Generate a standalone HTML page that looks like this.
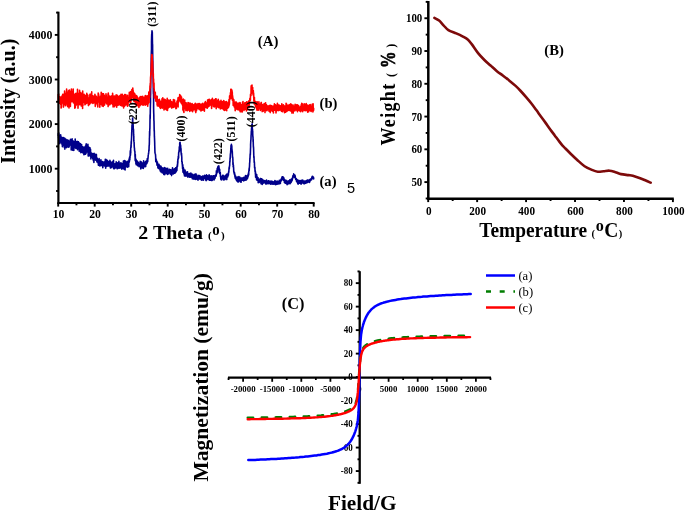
<!DOCTYPE html>
<html><head><meta charset="utf-8"><title>Figure</title>
<style>
html,body{margin:0;padding:0;background:#fff;}
body{width:685px;height:512px;overflow:hidden;font-family:"Liberation Serif",serif;}
svg{display:block;}
</style></head><body>
<svg width="685" height="512" viewBox="0 0 685 512">
<rect width="685" height="512" fill="#ffffff"/>
<g style="will-change:transform">
<polyline points="58.2,135.5 58.3,133.5 58.4,135.7 58.5,136.1 58.6,138.0 58.7,136.3 58.7,132.8 58.8,135.0 58.9,133.6 59.0,136.0 59.1,135.9 59.2,136.8 59.3,142.2 59.4,135.4 59.5,136.7 59.6,136.9 59.7,143.2 59.8,143.6 59.8,141.4 59.9,140.4 60.0,138.4 60.1,139.4 60.2,137.9 60.3,141.1 60.4,138.6 60.5,138.4 60.6,141.4 60.7,134.9 60.8,138.1 60.8,136.4 60.9,141.5 61.0,142.0 61.1,140.9 61.2,140.4 61.3,138.4 61.4,139.6 61.5,141.6 61.6,143.1 61.7,141.9 61.8,137.2 61.9,142.9 61.9,140.1 62.0,139.7 62.1,145.0 62.2,140.9 62.3,137.5 62.4,146.7 62.5,142.1 62.6,141.6 62.7,143.6 62.8,140.0 62.9,141.6 62.9,145.5 63.0,139.2 63.1,139.6 63.2,138.9 63.3,137.6 63.4,140.6 63.5,141.3 63.6,145.2 63.7,140.0 63.8,143.4 63.9,143.0 63.9,145.3 64.0,144.5 64.1,143.3 64.2,138.3 64.3,147.6 64.4,146.0 64.5,141.4 64.6,138.1 64.7,140.5 64.8,147.4 64.9,149.1 65.0,141.3 65.0,144.4 65.1,145.5 65.2,139.7 65.3,139.4 65.4,142.1 65.5,142.0 65.6,141.6 65.7,139.0 65.8,141.3 65.9,141.6 66.0,141.6 66.0,146.5 66.1,140.0 66.2,140.8 66.3,141.8 66.4,147.6 66.5,144.6 66.6,141.2 66.7,147.4 66.8,143.7 66.9,140.9 67.0,146.4 67.1,139.7 67.1,142.2 67.2,143.8 67.3,142.8 67.4,142.1 67.5,143.3 67.6,141.0 67.7,145.2 67.8,144.7 67.9,141.3 68.0,143.7 68.1,145.8 68.1,141.6 68.2,140.4 68.3,144.9 68.4,147.1 68.5,144.2 68.6,144.3 68.7,144.6 68.8,140.7 68.9,146.3 69.0,141.0 69.1,146.9 69.2,145.8 69.2,142.5 69.3,141.4 69.4,142.0 69.5,143.2 69.6,143.7 69.7,143.7 69.8,142.7 69.9,144.4 70.0,143.4 70.1,142.7 70.2,144.1 70.2,142.3 70.3,142.8 70.4,139.4 70.5,143.4 70.6,145.1 70.7,145.0 70.8,144.2 70.9,142.0 71.0,145.0 71.1,143.3 71.2,140.0 71.2,150.0 71.3,146.9 71.4,143.7 71.5,143.4 71.6,143.7 71.7,145.3 71.8,142.8 71.9,143.7 72.0,145.6 72.1,138.7 72.2,143.6 72.3,145.7 72.3,144.6 72.4,144.9 72.5,144.6 72.6,150.2 72.7,145.6 72.8,142.1 72.9,147.2 73.0,144.7 73.1,142.3 73.2,142.5 73.3,141.1 73.3,148.5 73.4,145.4 73.5,145.4 73.6,143.2 73.7,142.1 73.8,150.4 73.9,142.1 74.0,148.0 74.1,143.1 74.2,148.1 74.3,144.3 74.4,141.9 74.4,145.0 74.5,144.3 74.6,142.9 74.7,144.4 74.8,144.9 74.9,141.2 75.0,142.3 75.1,145.4 75.2,139.0 75.3,147.4 75.4,142.7 75.4,145.4 75.5,144.5 75.6,143.2 75.7,144.3 75.8,143.3 75.9,148.4 76.0,148.4 76.1,143.4 76.2,147.1 76.3,147.3 76.4,148.3 76.5,142.0 76.5,143.2 76.6,141.5 76.7,147.2 76.8,145.0 76.9,147.7 77.0,143.3 77.1,141.4 77.2,147.1 77.3,141.5 77.4,142.8 77.5,145.5 77.5,149.7 77.6,141.9 77.7,145.4 77.8,146.6 77.9,144.3 78.0,144.2 78.1,141.7 78.2,147.6 78.3,142.6 78.4,141.8 78.5,142.0 78.5,145.8 78.6,147.2 78.7,143.2 78.8,145.3 78.9,145.4 79.0,142.5 79.1,146.5 79.2,151.3 79.3,147.0 79.4,150.5 79.5,144.4 79.6,145.7 79.6,147.9 79.7,146.7 79.8,144.8 79.9,146.7 80.0,143.9 80.1,147.2 80.2,144.8 80.3,143.9 80.4,143.7 80.5,149.1 80.6,145.7 80.6,152.2 80.7,150.4 80.8,152.6 80.9,145.6 81.0,151.1 81.1,148.4 81.2,148.9 81.3,148.6 81.4,150.0 81.5,148.1 81.6,144.6 81.7,148.7 81.7,147.7 81.8,146.6 81.9,149.5 82.0,151.9 82.1,150.3 82.2,146.5 82.3,152.8 82.4,150.4 82.5,146.7 82.6,147.2 82.7,149.0 82.7,147.2 82.8,148.7 82.9,151.8 83.0,152.7 83.1,150.6 83.2,147.0 83.3,150.4 83.4,151.2 83.5,150.9 83.6,152.7 83.7,149.5 83.8,151.9 83.8,148.4 83.9,154.7 84.0,148.5 84.1,150.7 84.2,153.8 84.3,147.6 84.4,149.9 84.5,154.5 84.6,151.3 84.7,148.7 84.8,150.4 84.8,147.5 84.9,147.6 85.0,147.8 85.1,148.6 85.2,146.3 85.3,147.9 85.4,148.4 85.5,154.3 85.6,147.4 85.7,146.4 85.8,150.2 85.8,150.6 85.9,145.0 86.0,153.6 86.1,148.4 86.2,143.9 86.3,151.7 86.4,148.0 86.5,145.2 86.6,149.9 86.7,148.3 86.8,147.5 86.9,151.7 86.9,149.8 87.0,148.9 87.1,147.7 87.2,149.7 87.3,150.1 87.4,152.0 87.5,150.5 87.6,147.7 87.7,149.6 87.8,151.9 87.9,151.9 87.9,144.3 88.0,147.5 88.1,148.8 88.2,156.1 88.3,149.0 88.4,149.4 88.5,146.7 88.6,149.7 88.7,151.0 88.8,149.8 88.9,155.6 89.0,148.8 89.0,150.6 89.1,153.1 89.2,148.5 89.3,147.5 89.4,155.1 89.5,153.5 89.6,151.4 89.7,151.8 89.8,153.3 89.9,154.7 90.0,147.7 90.0,150.3 90.1,155.6 90.2,156.1 90.3,149.2 90.4,151.0 90.5,149.2 90.6,151.7 90.7,155.7 90.8,153.2 90.9,158.9 91.0,155.8 91.0,154.3 91.1,153.1 91.2,156.1 91.3,154.8 91.4,153.6 91.5,153.9 91.6,153.4 91.7,154.5 91.8,155.9 91.9,153.4 92.0,155.2 92.1,157.3 92.1,157.0 92.2,155.6 92.3,155.9 92.4,155.4 92.5,155.8 92.6,155.5 92.7,156.3 92.8,159.0 92.9,155.1 93.0,153.7 93.1,155.2 93.1,156.7 93.2,155.3 93.3,158.6 93.4,160.8 93.5,156.3 93.6,158.7 93.7,154.9 93.8,159.2 93.9,162.5 94.0,159.2 94.1,153.2 94.2,157.8 94.2,160.2 94.3,158.9 94.4,156.0 94.5,156.1 94.6,157.0 94.7,154.0 94.8,156.2 94.9,157.7 95.0,156.6 95.1,154.7 95.2,156.1 95.2,156.1 95.3,160.1 95.4,158.5 95.5,156.9 95.6,159.0 95.7,156.5 95.8,157.5 95.9,157.0 96.0,159.2 96.1,154.2 96.2,156.7 96.3,159.5 96.3,159.0 96.4,154.6 96.5,160.1 96.6,157.9 96.7,157.8 96.8,159.7 96.9,162.0 97.0,159.6 97.1,159.3 97.2,158.0 97.3,158.7 97.3,160.3 97.4,158.8 97.5,159.5 97.6,160.2 97.7,160.6 97.8,161.2 97.9,159.6 98.0,162.9 98.1,162.2 98.2,161.1 98.3,164.0 98.3,162.1 98.4,165.1 98.5,162.7 98.6,160.5 98.7,160.6 98.8,161.8 98.9,162.2 99.0,164.5 99.1,158.5 99.2,161.0 99.3,160.0 99.4,163.7 99.4,162.5 99.5,165.6 99.6,160.8 99.7,160.5 99.8,165.9 99.9,162.4 100.0,161.2 100.1,165.6 100.2,165.8 100.3,164.4 100.4,163.6 100.4,165.0 100.5,162.4 100.6,162.0 100.7,161.3 100.8,161.2 100.9,159.7 101.0,160.3 101.1,165.0 101.2,163.5 101.3,164.6 101.4,164.6 101.5,162.8 101.5,162.6 101.6,161.7 101.7,165.6 101.8,165.0 101.9,162.8 102.0,163.1 102.1,163.3 102.2,162.9 102.3,164.2 102.4,161.5 102.5,162.2 102.5,163.1 102.6,164.2 102.7,163.3 102.8,167.7 102.9,164.8 103.0,163.0 103.1,165.9 103.2,162.7 103.3,162.8 103.4,165.7 103.5,163.6 103.6,163.8 103.6,162.4 103.7,162.1 103.8,163.3 103.9,164.9 104.0,163.6 104.1,163.5 104.2,162.0 104.3,162.9 104.4,164.8 104.5,166.0 104.6,164.2 104.6,164.9 104.7,165.6 104.8,163.8 104.9,164.5 105.0,163.4 105.1,162.7 105.2,164.5 105.3,159.4 105.4,164.4 105.5,161.7 105.6,163.6 105.6,161.7 105.7,168.3 105.8,165.3 105.9,163.5 106.0,162.8 106.1,159.6 106.2,163.4 106.3,161.6 106.4,162.6 106.5,162.3 106.6,163.1 106.7,164.4 106.7,163.2 106.8,166.2 106.9,162.0 107.0,166.1 107.1,163.8 107.2,160.3 107.3,164.7 107.4,164.3 107.5,162.2 107.6,164.3 107.7,165.9 107.7,163.9 107.8,163.3 107.9,163.1 108.0,165.9 108.1,161.2 108.2,161.4 108.3,164.5 108.4,164.0 108.5,165.3 108.6,161.9 108.7,165.9 108.8,163.3 108.8,165.5 108.9,165.9 109.0,163.3 109.1,162.1 109.2,164.7 109.3,165.9 109.4,163.1 109.5,164.8 109.6,164.1 109.7,161.8 109.8,162.6 109.8,165.7 109.9,160.4 110.0,164.7 110.1,163.2 110.2,165.9 110.3,164.8 110.4,168.0 110.5,161.4 110.6,162.2 110.7,167.0 110.8,167.6 110.9,167.8 110.9,162.6 111.0,165.6 111.1,164.9 111.2,165.4 111.3,165.0 111.4,166.9 111.5,164.8 111.6,167.5 111.7,165.0 111.8,164.3 111.9,164.0 111.9,165.3 112.0,166.6 112.1,164.6 112.2,165.8 112.3,162.0 112.4,163.5 112.5,165.2 112.6,165.8 112.7,166.3 112.8,166.7 112.9,165.6 112.9,164.4 113.0,164.0 113.1,163.9 113.2,161.1 113.3,166.4 113.4,165.0 113.5,160.4 113.6,168.6 113.7,166.1 113.8,164.8 113.9,164.8 114.0,164.4 114.0,165.6 114.1,164.5 114.2,165.1 114.3,163.7 114.4,168.7 114.5,166.8 114.6,165.2 114.7,167.1 114.8,167.2 114.9,164.1 115.0,166.5 115.0,164.1 115.1,163.9 115.2,164.7 115.3,164.3 115.4,165.5 115.5,167.9 115.6,165.4 115.7,164.5 115.8,166.3 115.9,165.5 116.0,164.0 116.1,167.0 116.1,164.2 116.2,161.9 116.3,166.4 116.4,165.1 116.5,165.7 116.6,162.5 116.7,164.8 116.8,163.8 116.9,166.7 117.0,165.5 117.1,165.5 117.1,168.8 117.2,162.8 117.3,163.8 117.4,168.8 117.5,164.1 117.6,165.8 117.7,164.7 117.8,164.8 117.9,168.4 118.0,165.9 118.1,162.8 118.2,166.6 118.2,167.5 118.3,168.1 118.4,167.9 118.5,165.0 118.6,162.4 118.7,164.8 118.8,165.1 118.9,161.4 119.0,166.6 119.1,166.9 119.2,164.6 119.2,164.6 119.3,167.5 119.4,167.8 119.5,165.1 119.6,165.2 119.7,168.1 119.8,166.0 119.9,166.6 120.0,164.8 120.1,165.8 120.2,165.8 120.2,166.3 120.3,163.6 120.4,163.0 120.5,166.3 120.6,164.0 120.7,167.0 120.8,165.5 120.9,164.2 121.0,162.8 121.1,166.3 121.2,165.7 121.3,165.2 121.3,168.4 121.4,165.5 121.5,166.8 121.6,164.9 121.7,167.7 121.8,169.3 121.9,165.5 122.0,165.0 122.1,166.6 122.2,163.9 122.3,166.0 122.3,166.6 122.4,164.6 122.5,168.4 122.6,166.8 122.7,165.5 122.8,163.9 122.9,165.8 123.0,164.9 123.1,166.7 123.2,164.9 123.3,162.3 123.4,166.7 123.4,161.0 123.5,166.6 123.6,165.4 123.7,165.1 123.8,163.5 123.9,167.7 124.0,169.3 124.1,164.2 124.2,163.8 124.3,164.2 124.4,160.6 124.4,164.9 124.5,164.8 124.6,163.5 124.7,164.6 124.8,162.1 124.9,167.5 125.0,165.9 125.1,169.9 125.2,163.6 125.3,165.8 125.4,163.4 125.5,161.1 125.5,165.1 125.6,165.5 125.7,166.0 125.8,166.6 125.9,166.1 126.0,163.7 126.1,164.8 126.2,164.7 126.3,165.2 126.4,163.1 126.5,163.8 126.5,165.0 126.6,163.4 126.7,164.9 126.8,166.8 126.9,161.8 127.0,163.6 127.1,166.2 127.2,162.4 127.3,163.7 127.4,167.2 127.5,161.2 127.5,163.5 127.6,162.4 127.7,163.6 127.8,164.2 127.9,166.7 128.0,161.9 128.1,163.6 128.2,164.1 128.3,162.7 128.4,163.1 128.5,161.9 128.6,163.7 128.6,162.9 128.7,166.7 128.8,163.3 128.9,161.0 129.0,159.5 129.1,162.5 129.2,161.8 129.3,158.3 129.4,161.5 129.5,159.2 129.6,157.0 129.6,159.6 129.7,156.9 129.8,160.0 129.9,157.7 130.0,157.6 130.1,156.5 130.2,153.9 130.3,150.7 130.4,155.5 130.5,154.4 130.6,151.3 130.7,153.1 130.7,149.0 130.8,147.6 130.9,147.9 131.0,144.9 131.1,147.3 131.2,141.5 131.3,143.7 131.4,140.7 131.5,138.8 131.6,136.8 131.7,133.1 131.7,132.6 131.8,131.6 131.9,128.5 132.0,125.3 132.1,126.3 132.2,124.5 132.3,122.0 132.4,122.6 132.5,124.4 132.6,118.1 132.7,118.4 132.8,125.1 132.8,122.4 132.9,122.4 133.0,122.4 133.1,124.0 133.2,126.8 133.3,129.4 133.4,129.2 133.5,129.4 133.6,134.4 133.7,136.0 133.8,136.2 133.8,140.9 133.9,140.0 134.0,141.9 134.1,142.2 134.2,145.5 134.3,147.3 134.4,147.9 134.5,148.7 134.6,151.0 134.7,151.1 134.8,151.1 134.8,151.4 134.9,151.6 135.0,156.4 135.1,156.6 135.2,160.6 135.3,154.5 135.4,159.2 135.5,158.7 135.6,158.4 135.7,161.8 135.8,159.4 135.9,160.6 135.9,163.7 136.0,160.8 136.1,159.6 136.2,164.7 136.3,160.8 136.4,161.9 136.5,161.7 136.6,162.0 136.7,160.8 136.8,163.3 136.9,161.8 136.9,163.9 137.0,162.3 137.1,164.8 137.2,163.8 137.3,161.0 137.4,163.1 137.5,164.1 137.6,165.8 137.7,165.3 137.8,163.8 137.9,162.7 138.0,163.6 138.0,163.5 138.1,164.4 138.2,162.3 138.3,165.1 138.4,165.4 138.5,163.2 138.6,164.5 138.7,165.1 138.8,165.6 138.9,165.1 139.0,163.8 139.0,164.2 139.1,166.7 139.2,164.2 139.3,164.6 139.4,166.4 139.5,163.7 139.6,165.4 139.7,165.5 139.8,163.7 139.9,162.9 140.0,166.1 140.1,164.3 140.1,166.4 140.2,161.4 140.3,165.8 140.4,163.2 140.5,166.0 140.6,163.8 140.7,161.6 140.8,168.9 140.9,165.7 141.0,164.3 141.1,165.2 141.1,166.1 141.2,161.7 141.3,164.9 141.4,167.6 141.5,163.7 141.6,167.7 141.7,163.2 141.8,165.9 141.9,164.7 142.0,163.0 142.1,164.7 142.1,167.1 142.2,167.5 142.3,163.0 142.4,163.7 142.5,166.1 142.6,163.5 142.7,164.0 142.8,163.8 142.9,168.3 143.0,165.2 143.1,163.3 143.2,163.6 143.2,163.3 143.3,168.5 143.4,164.4 143.5,163.9 143.6,160.7 143.7,166.1 143.8,165.1 143.9,164.4 144.0,163.1 144.1,165.1 144.2,162.6 144.2,165.6 144.3,163.9 144.4,165.1 144.5,164.0 144.6,165.3 144.7,166.6 144.8,162.4 144.9,163.5 145.0,164.8 145.1,163.6 145.2,162.3 145.3,165.3 145.3,163.9 145.4,162.8 145.5,162.7 145.6,164.0 145.7,166.6 145.8,161.3 145.9,162.6 146.0,163.0 146.1,163.4 146.2,162.4 146.3,163.3 146.3,164.1 146.4,163.5 146.5,163.2 146.6,163.0 146.7,163.7 146.8,160.7 146.9,163.6 147.0,160.3 147.1,162.7 147.2,160.3 147.3,158.5 147.4,160.1 147.4,161.2 147.5,159.7 147.6,159.2 147.7,161.8 147.8,159.6 147.9,158.0 148.0,158.5 148.1,157.1 148.2,155.6 148.3,154.9 148.4,154.0 148.4,153.8 148.5,154.3 148.6,153.0 148.7,152.4 148.8,151.3 148.9,149.9 149.0,151.0 149.1,147.3 149.2,145.2 149.3,144.9 149.4,141.5 149.4,138.5 149.5,137.2 149.6,131.2 149.7,135.6 149.8,129.0 149.9,128.4 150.0,120.6 150.1,114.5 150.2,118.4 150.3,110.2 150.4,105.2 150.5,101.9 150.5,95.8 150.6,95.2 150.7,85.3 150.8,80.8 150.9,76.0 151.0,71.6 151.1,64.3 151.2,60.8 151.3,54.6 151.4,51.0 151.5,49.2 151.5,41.8 151.6,38.0 151.7,34.3 151.8,34.8 151.9,32.2 152.0,30.8 152.1,32.0 152.2,31.6 152.3,32.5 152.4,39.9 152.5,44.9 152.6,44.6 152.6,48.1 152.7,53.9 152.8,59.1 152.9,66.7 153.0,72.2 153.1,75.1 153.2,83.3 153.3,89.9 153.4,93.8 153.5,93.4 153.6,99.1 153.6,107.8 153.7,112.3 153.8,114.9 153.9,120.4 154.0,120.9 154.1,126.5 154.2,131.3 154.3,130.6 154.4,136.4 154.5,137.7 154.6,140.4 154.7,143.1 154.7,144.1 154.8,147.5 154.9,151.0 155.0,153.1 155.1,153.0 155.2,153.5 155.3,153.5 155.4,154.4 155.5,154.6 155.6,156.1 155.7,158.3 155.7,158.9 155.8,161.8 155.9,159.4 156.0,158.9 156.1,159.4 156.2,160.8 156.3,161.4 156.4,160.1 156.5,161.9 156.6,161.1 156.7,161.7 156.7,162.6 156.8,161.2 156.9,164.4 157.0,164.3 157.1,165.3 157.2,165.5 157.3,162.1 157.4,162.0 157.5,164.9 157.6,164.3 157.7,163.5 157.8,164.3 157.8,163.9 157.9,167.9 158.0,167.1 158.1,165.5 158.2,164.2 158.3,166.4 158.4,168.0 158.5,167.4 158.6,168.0 158.7,168.4 158.8,164.9 158.8,168.3 158.9,167.4 159.0,164.2 159.1,165.8 159.2,167.3 159.3,168.9 159.4,167.4 159.5,165.6 159.6,167.2 159.7,166.3 159.8,168.2 159.9,167.7 159.9,168.9 160.0,168.0 160.1,166.7 160.2,171.0 160.3,169.0 160.4,168.6 160.5,169.9 160.6,169.6 160.7,168.0 160.8,166.1 160.9,168.3 160.9,168.9 161.0,171.9 161.1,166.5 161.2,169.4 161.3,169.7 161.4,171.4 161.5,169.8 161.6,171.5 161.7,169.7 161.8,169.2 161.9,169.9 162.0,169.6 162.0,171.4 162.1,167.9 162.2,171.2 162.3,173.0 162.4,170.5 162.5,171.5 162.6,171.9 162.7,170.9 162.8,169.9 162.9,172.3 163.0,170.7 163.0,168.3 163.1,169.5 163.2,170.8 163.3,170.4 163.4,170.8 163.5,170.8 163.6,169.6 163.7,170.9 163.8,174.5 163.9,170.8 164.0,172.2 164.0,169.8 164.1,171.8 164.2,170.7 164.3,167.5 164.4,172.6 164.5,172.7 164.6,173.2 164.7,174.7 164.8,173.9 164.9,170.5 165.0,172.0 165.1,174.0 165.1,173.4 165.2,170.1 165.3,172.3 165.4,171.7 165.5,170.6 165.6,169.0 165.7,168.1 165.8,169.6 165.9,171.0 166.0,170.9 166.1,168.4 166.1,169.0 166.2,171.8 166.3,170.6 166.4,170.8 166.5,171.2 166.6,172.1 166.7,173.4 166.8,172.2 166.9,173.8 167.0,169.5 167.1,170.5 167.2,173.3 167.2,169.2 167.3,170.0 167.4,174.4 167.5,168.6 167.6,170.2 167.7,168.2 167.8,173.4 167.9,170.7 168.0,170.8 168.1,171.2 168.2,171.2 168.2,169.9 168.3,173.9 168.4,173.5 168.5,173.7 168.6,172.4 168.7,172.5 168.8,171.0 168.9,171.2 169.0,171.5 169.1,172.7 169.2,172.3 169.3,170.1 169.3,170.4 169.4,171.5 169.5,172.1 169.6,169.2 169.7,172.6 169.8,170.6 169.9,169.8 170.0,172.1 170.1,170.4 170.2,173.4 170.3,170.1 170.3,171.4 170.4,174.1 170.5,170.6 170.6,173.1 170.7,169.7 170.8,172.7 170.9,171.9 171.0,171.2 171.1,172.2 171.2,171.3 171.3,172.5 171.3,170.6 171.4,171.7 171.5,171.3 171.6,175.6 171.7,169.8 171.8,171.6 171.9,174.4 172.0,171.5 172.1,170.9 172.2,169.9 172.3,173.3 172.4,169.2 172.4,171.8 172.5,167.8 172.6,171.8 172.7,170.5 172.8,172.1 172.9,173.3 173.0,169.8 173.1,170.1 173.2,169.1 173.3,170.1 173.4,172.3 173.4,174.0 173.5,172.4 173.6,172.4 173.7,172.6 173.8,170.4 173.9,170.8 174.0,171.7 174.1,171.0 174.2,171.4 174.3,170.8 174.4,169.9 174.5,169.6 174.5,172.1 174.6,173.3 174.7,168.7 174.8,170.7 174.9,169.1 175.0,173.3 175.1,171.2 175.2,170.6 175.3,172.8 175.4,171.3 175.5,169.3 175.5,168.7 175.6,167.8 175.7,171.5 175.8,172.3 175.9,169.1 176.0,168.4 176.1,169.4 176.2,171.6 176.3,168.2 176.4,168.0 176.5,168.1 176.6,169.5 176.6,168.1 176.7,167.0 176.8,168.9 176.9,170.6 177.0,166.8 177.1,166.2 177.2,166.6 177.3,164.8 177.4,166.6 177.5,165.3 177.6,165.2 177.6,163.2 177.7,161.0 177.8,163.3 177.9,159.0 178.0,159.1 178.1,159.4 178.2,159.0 178.3,156.3 178.4,158.4 178.5,157.4 178.6,158.0 178.6,154.6 178.7,152.3 178.8,152.6 178.9,151.7 179.0,151.7 179.1,150.1 179.2,151.6 179.3,146.8 179.4,148.2 179.5,148.5 179.6,147.1 179.7,146.6 179.7,143.4 179.8,142.6 179.9,146.1 180.0,142.3 180.1,142.3 180.2,144.7 180.3,146.4 180.4,145.6 180.5,146.0 180.6,145.1 180.7,146.9 180.7,150.3 180.8,147.7 180.9,151.4 181.0,148.6 181.1,152.9 181.2,153.2 181.3,154.5 181.4,155.0 181.5,153.2 181.6,155.0 181.7,156.4 181.8,157.8 181.8,161.7 181.9,161.0 182.0,161.9 182.1,163.5 182.2,162.0 182.3,164.7 182.4,165.4 182.5,166.6 182.6,168.8 182.7,165.3 182.8,164.8 182.8,167.1 182.9,169.4 183.0,172.3 183.1,168.5 183.2,167.3 183.3,169.1 183.4,168.5 183.5,168.0 183.6,168.8 183.7,171.6 183.8,169.5 183.9,170.2 183.9,174.0 184.0,172.4 184.1,174.2 184.2,172.4 184.3,171.5 184.4,174.2 184.5,175.9 184.6,170.8 184.7,172.3 184.8,170.7 184.9,175.2 184.9,171.6 185.0,170.1 185.1,170.3 185.2,173.8 185.3,173.2 185.4,173.9 185.5,172.2 185.6,172.2 185.7,173.8 185.8,176.1 185.9,172.9 185.9,174.8 186.0,173.3 186.1,173.8 186.2,172.2 186.3,172.9 186.4,174.9 186.5,173.9 186.6,172.2 186.7,175.1 186.8,174.0 186.9,173.1 187.0,173.0 187.0,174.0 187.1,176.3 187.2,176.3 187.3,174.5 187.4,174.3 187.5,171.7 187.6,176.0 187.7,173.5 187.8,174.0 187.9,177.1 188.0,176.1 188.0,174.9 188.1,175.7 188.2,175.3 188.3,174.6 188.4,176.2 188.5,174.7 188.6,176.1 188.7,176.0 188.8,174.7 188.9,176.1 189.0,175.1 189.1,173.5 189.1,175.5 189.2,175.7 189.3,174.7 189.4,176.1 189.5,174.3 189.6,177.3 189.7,174.9 189.8,176.4 189.9,176.8 190.0,173.6 190.1,176.9 190.1,173.7 190.2,175.1 190.3,174.1 190.4,177.2 190.5,174.5 190.6,174.2 190.7,176.2 190.8,176.2 190.9,173.0 191.0,175.9 191.1,176.7 191.2,177.0 191.2,175.6 191.3,175.8 191.4,176.0 191.5,174.1 191.6,176.7 191.7,175.7 191.8,174.5 191.9,177.6 192.0,175.1 192.1,174.1 192.2,178.1 192.2,177.8 192.3,177.8 192.4,178.8 192.5,175.9 192.6,178.8 192.7,175.9 192.8,174.7 192.9,178.6 193.0,177.0 193.1,179.0 193.2,175.6 193.2,177.5 193.3,177.0 193.4,176.6 193.5,176.0 193.6,177.1 193.7,176.7 193.8,177.4 193.9,176.5 194.0,178.2 194.1,176.6 194.2,179.1 194.3,177.3 194.3,174.3 194.4,176.6 194.5,178.3 194.6,176.4 194.7,178.0 194.8,178.8 194.9,177.7 195.0,175.9 195.1,176.3 195.2,176.9 195.3,178.0 195.3,178.2 195.4,175.2 195.5,176.6 195.6,178.1 195.7,179.5 195.8,178.6 195.9,173.8 196.0,178.3 196.1,177.0 196.2,176.7 196.3,177.1 196.4,177.3 196.4,178.7 196.5,178.3 196.6,174.9 196.7,177.9 196.8,175.9 196.9,179.1 197.0,177.4 197.1,176.7 197.2,175.7 197.3,178.5 197.4,176.3 197.4,176.6 197.5,178.0 197.6,176.5 197.7,178.2 197.8,178.1 197.9,177.2 198.0,180.3 198.1,177.3 198.2,178.4 198.3,179.0 198.4,177.7 198.5,176.2 198.5,177.7 198.6,175.6 198.7,178.7 198.8,178.9 198.9,175.3 199.0,176.8 199.1,176.1 199.2,178.3 199.3,176.3 199.4,177.0 199.5,176.5 199.5,177.3 199.6,175.8 199.7,178.1 199.8,178.5 199.9,179.2 200.0,175.9 200.1,178.3 200.2,178.7 200.3,178.6 200.4,178.0 200.5,179.0 200.5,177.8 200.6,178.2 200.7,178.1 200.8,178.6 200.9,177.4 201.0,178.0 201.1,177.3 201.2,177.2 201.3,177.1 201.4,180.2 201.5,178.2 201.6,178.5 201.6,176.6 201.7,179.5 201.8,178.4 201.9,177.9 202.0,178.0 202.1,176.3 202.2,178.1 202.3,176.4 202.4,179.4 202.5,179.9 202.6,176.1 202.6,177.1 202.7,177.0 202.8,177.5 202.9,177.0 203.0,179.1 203.1,176.4 203.2,178.3 203.3,176.4 203.4,177.5 203.5,180.1 203.6,179.3 203.7,176.3 203.7,177.8 203.8,178.2 203.9,177.4 204.0,178.2 204.1,178.4 204.2,177.6 204.3,177.5 204.4,175.8 204.5,177.6 204.6,175.3 204.7,175.4 204.7,175.6 204.8,176.4 204.9,177.5 205.0,177.5 205.1,177.9 205.2,178.6 205.3,177.8 205.4,178.5 205.5,175.7 205.6,177.1 205.7,178.3 205.8,180.1 205.8,177.8 205.9,178.3 206.0,179.1 206.1,179.2 206.2,180.6 206.3,177.1 206.4,177.9 206.5,174.7 206.6,177.8 206.7,178.0 206.8,176.0 206.8,177.6 206.9,177.6 207.0,178.3 207.1,178.6 207.2,175.9 207.3,176.6 207.4,175.7 207.5,178.3 207.6,177.8 207.7,178.9 207.8,176.6 207.8,179.6 207.9,177.2 208.0,176.5 208.1,176.1 208.2,179.0 208.3,176.5 208.4,178.8 208.5,178.8 208.6,179.5 208.7,176.5 208.8,175.8 208.9,178.6 208.9,178.9 209.0,178.3 209.1,174.8 209.2,176.7 209.3,178.6 209.4,180.2 209.5,178.8 209.6,176.5 209.7,175.6 209.8,178.3 209.9,178.8 209.9,178.6 210.0,180.3 210.1,176.8 210.2,179.3 210.3,176.6 210.4,180.1 210.5,179.6 210.6,177.6 210.7,178.9 210.8,177.0 210.9,178.0 211.0,179.4 211.0,177.2 211.1,176.9 211.2,180.4 211.3,175.7 211.4,177.4 211.5,177.0 211.6,180.3 211.7,178.9 211.8,178.4 211.9,176.6 212.0,179.8 212.0,179.1 212.1,180.5 212.2,178.3 212.3,177.5 212.4,180.1 212.5,178.7 212.6,177.3 212.7,176.0 212.8,177.1 212.9,178.3 213.0,179.4 213.1,179.1 213.1,178.7 213.2,177.7 213.3,177.9 213.4,175.8 213.5,177.5 213.6,179.1 213.7,175.9 213.8,176.6 213.9,177.6 214.0,178.6 214.1,180.0 214.1,178.9 214.2,176.5 214.3,178.6 214.4,179.2 214.5,177.2 214.6,177.1 214.7,176.6 214.8,176.5 214.9,175.5 215.0,178.2 215.1,175.8 215.1,178.2 215.2,176.0 215.3,176.5 215.4,176.3 215.5,175.2 215.6,176.3 215.7,174.7 215.8,174.8 215.9,175.5 216.0,176.1 216.1,176.1 216.2,175.6 216.2,174.9 216.3,174.3 216.4,170.8 216.5,172.8 216.6,172.3 216.7,173.9 216.8,173.3 216.9,172.4 217.0,171.3 217.1,172.4 217.2,168.6 217.2,170.9 217.3,168.4 217.4,172.2 217.5,168.8 217.6,168.0 217.7,167.8 217.8,166.9 217.9,167.0 218.0,166.9 218.1,169.3 218.2,167.7 218.3,169.7 218.3,166.1 218.4,166.6 218.5,167.4 218.6,168.4 218.7,168.4 218.8,165.8 218.9,166.3 219.0,168.9 219.1,167.7 219.2,171.8 219.3,172.7 219.3,171.3 219.4,172.3 219.5,172.3 219.6,171.9 219.7,169.4 219.8,173.8 219.9,173.3 220.0,173.4 220.1,174.1 220.2,173.3 220.3,172.5 220.4,176.6 220.4,175.1 220.5,175.9 220.6,175.4 220.7,178.0 220.8,178.5 220.9,179.3 221.0,176.0 221.1,176.5 221.2,176.8 221.3,180.0 221.4,177.6 221.4,178.2 221.5,179.1 221.6,178.6 221.7,176.6 221.8,176.9 221.9,177.7 222.0,177.1 222.1,178.5 222.2,177.7 222.3,177.8 222.4,177.2 222.4,178.0 222.5,178.1 222.6,178.1 222.7,178.8 222.8,175.2 222.9,177.4 223.0,177.5 223.1,175.2 223.2,176.3 223.3,180.0 223.4,177.2 223.5,177.0 223.5,175.7 223.6,176.4 223.7,177.1 223.8,179.6 223.9,179.2 224.0,177.7 224.1,177.4 224.2,179.3 224.3,178.5 224.4,178.6 224.5,178.0 224.5,177.6 224.6,178.4 224.7,179.6 224.8,176.4 224.9,176.0 225.0,178.1 225.1,176.7 225.2,177.4 225.3,177.1 225.4,177.3 225.5,178.8 225.6,177.1 225.6,176.5 225.7,178.9 225.8,175.3 225.9,175.1 226.0,175.4 226.1,175.1 226.2,176.6 226.3,177.9 226.4,178.2 226.5,178.4 226.6,177.2 226.6,177.3 226.7,176.3 226.8,179.6 226.9,174.1 227.0,174.1 227.1,176.9 227.2,175.9 227.3,176.0 227.4,176.1 227.5,176.6 227.6,176.3 227.7,177.0 227.7,175.6 227.8,175.6 227.9,175.0 228.0,176.2 228.1,174.8 228.2,174.5 228.3,173.4 228.4,175.2 228.5,172.9 228.6,171.8 228.7,171.8 228.7,172.5 228.8,172.0 228.9,171.1 229.0,169.2 229.1,167.5 229.2,168.9 229.3,168.7 229.4,166.5 229.5,165.8 229.6,166.2 229.7,165.0 229.7,163.1 229.8,161.0 229.9,162.2 230.0,160.8 230.1,157.7 230.2,158.6 230.3,155.6 230.4,154.1 230.5,153.4 230.6,153.3 230.7,150.9 230.8,150.1 230.8,148.3 230.9,148.8 231.0,145.6 231.1,148.5 231.2,146.1 231.3,145.6 231.4,144.3 231.5,146.4 231.6,145.3 231.7,147.1 231.8,146.1 231.8,145.7 231.9,149.3 232.0,149.3 232.1,152.1 232.2,150.9 232.3,151.9 232.4,154.6 232.5,157.4 232.6,156.7 232.7,157.1 232.8,158.4 232.9,159.9 232.9,164.4 233.0,164.1 233.1,162.6 233.2,166.9 233.3,165.0 233.4,165.0 233.5,167.3 233.6,167.6 233.7,170.2 233.8,172.1 233.9,171.4 233.9,172.1 234.0,172.5 234.1,172.1 234.2,173.6 234.3,173.7 234.4,173.8 234.5,174.7 234.6,172.8 234.7,174.8 234.8,175.6 234.9,176.2 235.0,177.0 235.0,174.7 235.1,176.4 235.2,178.1 235.3,177.7 235.4,177.3 235.5,177.8 235.6,176.0 235.7,179.0 235.8,177.0 235.9,177.6 236.0,179.3 236.0,177.9 236.1,178.1 236.2,177.5 236.3,178.7 236.4,177.9 236.5,180.4 236.6,179.7 236.7,177.5 236.8,177.2 236.9,178.6 237.0,179.4 237.0,177.3 237.1,181.3 237.2,179.7 237.3,178.0 237.4,178.0 237.5,180.2 237.6,181.3 237.7,177.1 237.8,178.8 237.9,180.1 238.0,179.0 238.1,177.9 238.1,182.2 238.2,177.7 238.3,178.2 238.4,181.8 238.5,178.2 238.6,181.4 238.7,177.8 238.8,178.8 238.9,176.5 239.0,180.1 239.1,179.3 239.1,178.0 239.2,180.1 239.3,180.2 239.4,179.8 239.5,179.5 239.6,180.8 239.7,178.8 239.8,178.7 239.9,179.3 240.0,177.3 240.1,179.9 240.2,177.8 240.2,180.1 240.3,178.5 240.4,181.9 240.5,179.2 240.6,179.7 240.7,180.1 240.8,180.3 240.9,179.9 241.0,180.4 241.1,182.2 241.2,180.2 241.2,180.2 241.3,180.1 241.4,180.8 241.5,179.7 241.6,178.5 241.7,179.8 241.8,180.1 241.9,177.8 242.0,178.3 242.1,178.3 242.2,178.0 242.3,179.9 242.3,179.6 242.4,178.0 242.5,180.1 242.6,179.6 242.7,178.9 242.8,178.9 242.9,179.7 243.0,178.1 243.1,179.6 243.2,178.4 243.3,178.0 243.3,178.5 243.4,178.4 243.5,180.7 243.6,180.9 243.7,180.0 243.8,178.6 243.9,177.3 244.0,180.7 244.1,178.8 244.2,180.2 244.3,180.0 244.3,179.4 244.4,178.2 244.5,178.8 244.6,177.5 244.7,180.2 244.8,177.8 244.9,177.7 245.0,178.8 245.1,178.2 245.2,179.5 245.3,180.1 245.4,179.2 245.4,179.5 245.5,175.5 245.6,179.2 245.7,176.4 245.8,178.2 245.9,178.0 246.0,177.4 246.1,179.2 246.2,177.0 246.3,177.6 246.4,179.9 246.4,177.2 246.5,177.2 246.6,177.2 246.7,175.7 246.8,178.1 246.9,176.8 247.0,176.4 247.1,178.3 247.2,175.6 247.3,178.7 247.4,178.4 247.5,175.9 247.5,177.7 247.6,176.3 247.7,178.0 247.8,175.6 247.9,176.9 248.0,174.8 248.1,176.8 248.2,174.0 248.3,174.5 248.4,173.7 248.5,173.4 248.5,172.7 248.6,174.0 248.7,174.9 248.8,171.1 248.9,171.7 249.0,170.4 249.1,168.5 249.2,170.7 249.3,168.3 249.4,167.1 249.5,166.6 249.6,163.8 249.6,163.2 249.7,162.8 249.8,161.7 249.9,158.1 250.0,158.4 250.1,155.3 250.2,153.9 250.3,155.2 250.4,152.4 250.5,149.3 250.6,147.0 250.6,144.6 250.7,142.6 250.8,140.4 250.9,140.3 251.0,138.2 251.1,135.1 251.2,134.8 251.3,131.2 251.4,132.9 251.5,128.6 251.6,128.4 251.6,129.5 251.7,124.9 251.8,125.1 251.9,125.1 252.0,126.3 252.1,125.7 252.2,123.7 252.3,127.3 252.4,130.2 252.5,129.3 252.6,131.1 252.7,131.2 252.7,133.2 252.8,135.5 252.9,137.3 253.0,136.8 253.1,141.8 253.2,139.5 253.3,144.6 253.4,147.2 253.5,146.7 253.6,148.9 253.7,152.7 253.7,152.2 253.8,157.1 253.9,157.6 254.0,156.6 254.1,159.8 254.2,162.5 254.3,161.6 254.4,162.4 254.5,164.7 254.6,168.1 254.7,167.3 254.8,167.3 254.8,167.8 254.9,167.3 255.0,170.7 255.1,171.7 255.2,171.9 255.3,170.9 255.4,174.2 255.5,171.9 255.6,177.2 255.7,173.5 255.8,175.8 255.8,174.7 255.9,174.8 256.0,177.4 256.1,176.4 256.2,176.2 256.3,176.1 256.4,178.2 256.5,178.5 256.6,179.9 256.7,174.5 256.8,178.1 256.9,178.3 256.9,180.0 257.0,177.1 257.1,179.1 257.2,176.8 257.3,177.6 257.4,178.8 257.5,178.0 257.6,180.4 257.7,179.5 257.8,179.9 257.9,180.9 257.9,179.4 258.0,179.7 258.1,177.8 258.2,182.7 258.3,180.5 258.4,180.9 258.5,180.4 258.6,179.4 258.7,179.5 258.8,180.0 258.9,180.7 258.9,179.5 259.0,179.7 259.1,182.5 259.2,180.6 259.3,182.1 259.4,181.9 259.5,180.2 259.6,180.4 259.7,180.4 259.8,181.7 259.9,180.9 260.0,181.8 260.0,180.2 260.1,179.9 260.2,178.6 260.3,179.2 260.4,181.8 260.5,181.4 260.6,182.1 260.7,180.6 260.8,178.5 260.9,180.1 261.0,183.8 261.0,182.6 261.1,182.7 261.2,180.5 261.3,181.2 261.4,180.8 261.5,179.0 261.6,182.3 261.7,182.3 261.8,178.9 261.9,180.9 262.0,182.3 262.1,183.9 262.1,183.3 262.2,184.5 262.3,181.4 262.4,181.4 262.5,180.3 262.6,181.7 262.7,182.2 262.8,182.3 262.9,179.7 263.0,183.4 263.1,181.5 263.1,181.7 263.2,181.1 263.3,182.1 263.4,181.3 263.5,181.0 263.6,181.9 263.7,182.3 263.8,182.0 263.9,182.8 264.0,182.1 264.1,182.2 264.2,181.7 264.2,180.6 264.3,180.7 264.4,182.4 264.5,181.4 264.6,181.7 264.7,181.3 264.8,182.0 264.9,181.8 265.0,182.5 265.1,182.9 265.2,181.3 265.2,180.9 265.3,181.5 265.4,181.7 265.5,181.9 265.6,182.6 265.7,184.0 265.8,181.6 265.9,182.0 266.0,182.8 266.1,183.2 266.2,181.0 266.2,184.1 266.3,180.6 266.4,181.7 266.5,180.0 266.6,183.1 266.7,182.4 266.8,182.9 266.9,182.3 267.0,182.6 267.1,183.2 267.2,181.4 267.3,183.2 267.3,183.0 267.4,181.9 267.5,183.0 267.6,182.9 267.7,182.2 267.8,182.9 267.9,183.8 268.0,182.7 268.1,182.8 268.2,180.9 268.3,183.7 268.3,181.6 268.4,183.4 268.5,183.0 268.6,183.0 268.7,182.4 268.8,181.8 268.9,180.9 269.0,183.3 269.1,181.4 269.2,181.7 269.3,181.9 269.4,183.4 269.4,181.8 269.5,182.8 269.6,182.4 269.7,183.0 269.8,182.1 269.9,181.7 270.0,181.6 270.1,183.0 270.2,181.8 270.3,181.3 270.4,183.7 270.4,181.3 270.5,184.1 270.6,182.2 270.7,182.2 270.8,181.3 270.9,182.5 271.0,183.2 271.1,183.5 271.2,184.0 271.3,182.0 271.4,183.0 271.5,183.5 271.5,182.2 271.6,183.5 271.7,183.2 271.8,183.2 271.9,181.1 272.0,181.3 272.1,182.9 272.2,184.3 272.3,182.5 272.4,182.7 272.5,182.4 272.5,182.2 272.6,183.1 272.7,181.9 272.8,181.9 272.9,182.6 273.0,183.2 273.1,183.2 273.2,182.1 273.3,183.8 273.4,182.9 273.5,183.5 273.5,184.1 273.6,182.2 273.7,182.8 273.8,182.7 273.9,181.9 274.0,184.2 274.1,182.8 274.2,182.5 274.3,181.9 274.4,183.8 274.5,182.0 274.6,182.5 274.6,181.4 274.7,181.6 274.8,182.2 274.9,180.6 275.0,182.7 275.1,183.1 275.2,183.1 275.3,183.6 275.4,182.8 275.5,184.6 275.6,182.8 275.6,182.3 275.7,181.7 275.8,183.0 275.9,181.3 276.0,183.3 276.1,182.8 276.2,184.5 276.3,183.4 276.4,183.5 276.5,181.2 276.6,182.2 276.7,183.7 276.7,182.1 276.8,182.2 276.9,182.9 277.0,182.6 277.1,182.9 277.2,183.1 277.3,184.3 277.4,182.7 277.5,181.4 277.6,181.2 277.7,182.9 277.7,183.3 277.8,182.8 277.9,181.7 278.0,182.2 278.1,183.1 278.2,182.2 278.3,182.7 278.4,182.0 278.5,182.9 278.6,183.9 278.7,182.4 278.8,181.7 278.8,183.5 278.9,182.5 279.0,181.5 279.1,182.7 279.2,182.9 279.3,180.3 279.4,181.5 279.5,181.2 279.6,183.1 279.7,180.6 279.8,183.7 279.8,182.5 279.9,181.3 280.0,180.6 280.1,182.7 280.2,182.4 280.3,181.5 280.4,183.4 280.5,180.9 280.6,180.8 280.7,181.7 280.8,180.6 280.8,180.2 280.9,180.5 281.0,180.2 281.1,179.0 281.2,180.8 281.3,180.0 281.4,180.4 281.5,178.8 281.6,179.9 281.7,178.9 281.8,179.0 281.9,178.9 281.9,177.1 282.0,178.6 282.1,177.0 282.2,177.4 282.3,176.8 282.4,178.1 282.5,177.0 282.6,177.1 282.7,178.4 282.8,177.6 282.9,178.0 282.9,178.0 283.0,176.8 283.1,178.9 283.2,180.0 283.3,180.2 283.4,179.1 283.5,179.5 283.6,179.1 283.7,178.8 283.8,177.8 283.9,179.4 284.0,179.5 284.0,180.8 284.1,179.7 284.2,179.1 284.3,179.3 284.4,182.6 284.5,180.0 284.6,179.5 284.7,180.4 284.8,182.7 284.9,181.7 285.0,180.9 285.0,181.2 285.1,182.4 285.2,182.5 285.3,180.9 285.4,183.1 285.5,180.5 285.6,181.9 285.7,181.7 285.8,183.3 285.9,182.6 286.0,181.4 286.1,183.5 286.1,180.2 286.2,183.5 286.3,183.3 286.4,182.1 286.5,181.7 286.6,181.5 286.7,182.6 286.8,182.4 286.9,182.5 287.0,182.8 287.1,184.7 287.1,181.3 287.2,182.0 287.3,182.1 287.4,182.8 287.5,182.0 287.6,182.3 287.7,182.3 287.8,181.2 287.9,183.9 288.0,182.0 288.1,183.2 288.1,182.5 288.2,180.8 288.3,183.2 288.4,182.3 288.5,182.8 288.6,181.3 288.7,183.1 288.8,183.8 288.9,181.7 289.0,182.5 289.1,182.4 289.2,181.1 289.2,182.9 289.3,182.4 289.4,181.9 289.5,181.6 289.6,182.5 289.7,181.0 289.8,179.8 289.9,182.3 290.0,180.1 290.1,183.8 290.2,180.5 290.2,182.1 290.3,181.6 290.4,182.0 290.5,182.2 290.6,182.8 290.7,181.9 290.8,180.2 290.9,180.3 291.0,181.6 291.1,181.6 291.2,181.7 291.3,182.1 291.3,179.1 291.4,180.1 291.5,180.4 291.6,180.8 291.7,181.2 291.8,178.8 291.9,179.1 292.0,180.6 292.1,178.5 292.2,180.3 292.3,178.4 292.3,179.7 292.4,178.9 292.5,177.8 292.6,177.6 292.7,176.8 292.8,178.2 292.9,175.7 293.0,175.6 293.1,176.6 293.2,175.9 293.3,176.8 293.4,176.0 293.4,176.9 293.5,175.3 293.6,175.1 293.7,173.9 293.8,174.1 293.9,174.2 294.0,175.3 294.1,175.2 294.2,175.3 294.3,174.9 294.4,177.1 294.4,174.7 294.5,177.1 294.6,176.3 294.7,176.0 294.8,176.8 294.9,175.0 295.0,176.9 295.1,175.6 295.2,176.3 295.3,178.1 295.4,177.6 295.4,177.0 295.5,178.8 295.6,178.6 295.7,179.5 295.8,179.1 295.9,179.7 296.0,179.5 296.1,178.8 296.2,178.6 296.3,180.0 296.4,180.1 296.5,179.6 296.5,180.8 296.6,181.7 296.7,179.8 296.8,181.8 296.9,180.1 297.0,182.0 297.1,179.5 297.2,182.3 297.3,180.5 297.4,180.0 297.5,182.4 297.5,180.1 297.6,182.3 297.7,183.3 297.8,181.0 297.9,181.0 298.0,181.9 298.1,184.1 298.2,181.8 298.3,182.1 298.4,182.2 298.5,182.1 298.6,183.6 298.6,182.4 298.7,180.2 298.8,180.5 298.9,182.3 299.0,182.6 299.1,181.6 299.2,181.0 299.3,181.3 299.4,183.1 299.5,181.9 299.6,181.9 299.6,180.7 299.7,180.9 299.8,181.6 299.9,180.9 300.0,182.4 300.1,180.6 300.2,182.5 300.3,181.7 300.4,181.2 300.5,182.9 300.6,182.7 300.7,183.7 300.7,181.9 300.8,182.1 300.9,182.4 301.0,181.6 301.1,184.1 301.2,182.1 301.3,182.0 301.4,182.3 301.5,181.3 301.6,180.4 301.7,182.5 301.7,183.0 301.8,182.6 301.9,182.0 302.0,181.5 302.1,182.9 302.2,181.1 302.3,183.0 302.4,181.3 302.5,181.7 302.6,181.6 302.7,180.0 302.8,182.2 302.8,182.1 302.9,181.7 303.0,181.5 303.1,182.9 303.2,181.8 303.3,182.5 303.4,181.6 303.5,181.1 303.6,182.0 303.7,182.1 303.8,181.9 303.8,183.7 303.9,181.5 304.0,181.6 304.1,181.9 304.2,182.2 304.3,182.4 304.4,182.1 304.5,181.2 304.6,182.0 304.7,181.1 304.8,183.6 304.8,182.2 304.9,181.8 305.0,181.9 305.1,183.0 305.2,182.4 305.3,181.1 305.4,182.7 305.5,182.5 305.6,182.6 305.7,182.3 305.8,181.5 305.9,181.5 305.9,183.2 306.0,181.0 306.1,182.3 306.2,182.3 306.3,180.8 306.4,181.9 306.5,182.7 306.6,182.3 306.7,182.3 306.8,182.4 306.9,182.0 306.9,181.2 307.0,181.5 307.1,182.6 307.2,180.0 307.3,182.3 307.4,181.6 307.5,181.6 307.6,181.1 307.7,181.7 307.8,181.2 307.9,180.1 308.0,181.4 308.0,182.1 308.1,181.2 308.2,181.8 308.3,181.5 308.4,181.1 308.5,181.0 308.6,181.4 308.7,180.6 308.8,181.2 308.9,181.9 309.0,180.4 309.0,181.2 309.1,180.1 309.2,181.3 309.3,180.4 309.4,180.6 309.5,182.4 309.6,181.6 309.7,181.3 309.8,179.6 309.9,181.7 310.0,179.8 310.1,179.6 310.1,179.9 310.2,179.7 310.3,180.4 310.4,180.0 310.5,179.7 310.6,179.5 310.7,179.2 310.8,179.6 310.9,179.8 311.0,179.6 311.1,178.8 311.1,180.0 311.2,179.5 311.3,178.8 311.4,178.7 311.5,178.4 311.6,179.7 311.7,178.1 311.8,177.8 311.9,177.0 312.0,178.7 312.1,177.5 312.1,176.9 312.2,176.8 312.3,176.4 312.4,176.5 312.5,177.9 312.6,176.8 312.7,177.6 312.8,178.0 312.9,176.6 313.0,178.1 313.1,178.3 313.2,178.2 313.2,178.6 313.3,177.5 313.4,178.0 313.5,177.4 313.6,178.2 313.7,178.9" fill="none" stroke="#00008b" stroke-width="1.6" stroke-linejoin="round" stroke-linecap="round" />
<polyline points="58.2,94.6 58.3,100.9 58.4,100.1 58.5,99.1 58.6,98.3 58.7,94.0 58.7,100.7 58.8,97.1 58.9,98.6 59.0,103.1 59.1,102.5 59.2,99.3 59.3,97.0 59.4,97.3 59.5,96.7 59.6,98.3 59.7,100.1 59.8,96.9 59.8,102.2 59.9,103.4 60.0,99.7 60.1,103.7 60.2,100.4 60.3,101.2 60.4,100.5 60.5,98.6 60.6,101.4 60.7,100.0 60.8,104.8 60.8,97.9 60.9,101.7 61.0,97.0 61.1,108.1 61.2,101.4 61.3,97.6 61.4,107.5 61.5,99.8 61.6,98.1 61.7,98.1 61.8,104.0 61.9,97.6 61.9,97.9 62.0,102.1 62.1,95.7 62.2,98.7 62.3,98.4 62.4,100.1 62.5,96.5 62.6,98.1 62.7,94.3 62.8,96.8 62.9,100.8 62.9,99.3 63.0,95.1 63.1,99.8 63.2,97.1 63.3,96.6 63.4,99.2 63.5,107.1 63.6,98.0 63.7,97.7 63.8,98.0 63.9,101.3 63.9,94.0 64.0,99.0 64.1,100.8 64.2,101.2 64.3,97.2 64.4,102.6 64.5,102.2 64.6,91.1 64.7,93.7 64.8,94.6 64.9,93.5 65.0,96.3 65.0,104.8 65.1,94.1 65.2,93.9 65.3,96.7 65.4,105.8 65.5,93.9 65.6,93.5 65.7,100.4 65.8,98.1 65.9,95.6 66.0,98.8 66.0,94.5 66.1,98.2 66.2,96.0 66.3,98.2 66.4,104.0 66.5,102.2 66.6,89.0 66.7,97.5 66.8,93.7 66.9,94.3 67.0,92.2 67.1,96.5 67.1,100.8 67.2,98.5 67.3,105.7 67.4,99.3 67.5,95.2 67.6,106.6 67.7,97.8 67.8,95.5 67.9,93.6 68.0,102.0 68.1,101.0 68.1,105.5 68.2,102.4 68.3,96.6 68.4,90.9 68.5,102.8 68.6,93.4 68.7,97.0 68.8,100.4 68.9,90.4 69.0,108.0 69.1,98.8 69.2,97.8 69.2,90.6 69.3,91.9 69.4,90.1 69.5,98.1 69.6,94.9 69.7,93.5 69.8,96.7 69.9,97.2 70.0,99.3 70.1,100.1 70.2,103.2 70.2,91.3 70.3,100.3 70.4,106.4 70.5,97.6 70.6,98.7 70.7,97.9 70.8,91.8 70.9,99.0 71.0,99.6 71.1,101.4 71.2,98.7 71.2,100.2 71.3,97.8 71.4,89.0 71.5,97.1 71.6,101.8 71.7,91.4 71.8,95.4 71.9,95.6 72.0,96.0 72.1,95.6 72.2,96.1 72.3,93.4 72.3,94.9 72.4,93.6 72.5,100.5 72.6,98.6 72.7,101.3 72.8,95.1 72.9,95.5 73.0,100.4 73.1,96.4 73.2,89.0 73.3,94.0 73.3,102.8 73.4,99.0 73.5,96.3 73.6,98.8 73.7,97.2 73.8,94.2 73.9,97.4 74.0,102.7 74.1,96.0 74.2,99.0 74.3,98.2 74.4,100.8 74.4,103.8 74.5,103.3 74.6,100.0 74.7,102.6 74.8,108.2 74.9,94.4 75.0,103.0 75.1,101.4 75.2,96.7 75.3,107.7 75.4,93.6 75.4,101.5 75.5,96.2 75.6,100.5 75.7,97.5 75.8,98.3 75.9,98.7 76.0,105.5 76.1,104.1 76.2,98.8 76.3,93.4 76.4,100.7 76.5,96.7 76.5,98.1 76.6,96.9 76.7,95.0 76.8,104.3 76.9,97.6 77.0,99.3 77.1,99.8 77.2,101.9 77.3,101.6 77.4,102.5 77.5,102.8 77.5,89.3 77.6,92.3 77.7,98.7 77.8,95.9 77.9,102.4 78.0,108.3 78.1,105.5 78.2,98.2 78.3,93.3 78.4,98.9 78.5,102.5 78.5,99.6 78.6,102.5 78.7,103.9 78.8,99.6 78.9,100.2 79.0,101.8 79.1,102.1 79.2,102.2 79.3,97.9 79.4,93.6 79.5,99.6 79.6,90.4 79.6,104.8 79.7,97.8 79.8,103.1 79.9,99.4 80.0,98.4 80.1,96.7 80.2,94.6 80.3,100.9 80.4,103.5 80.5,99.5 80.6,97.7 80.6,101.4 80.7,95.5 80.8,92.5 80.9,104.2 81.0,97.5 81.1,95.0 81.2,106.0 81.3,98.1 81.4,99.7 81.5,104.2 81.6,93.9 81.7,98.1 81.7,100.7 81.8,97.2 81.9,96.5 82.0,96.0 82.1,96.7 82.2,97.4 82.3,103.3 82.4,100.5 82.5,98.4 82.6,108.5 82.7,91.0 82.7,100.4 82.8,102.9 82.9,105.7 83.0,98.0 83.1,98.8 83.2,101.1 83.3,100.5 83.4,102.3 83.5,101.8 83.6,99.3 83.7,101.4 83.8,96.5 83.8,99.5 83.9,98.5 84.0,97.5 84.1,94.3 84.2,96.8 84.3,98.2 84.4,99.6 84.5,102.0 84.6,100.3 84.7,96.5 84.8,98.2 84.8,100.5 84.9,104.0 85.0,104.8 85.1,97.9 85.2,95.2 85.3,97.7 85.4,104.2 85.5,99.9 85.6,98.3 85.7,102.5 85.8,97.8 85.8,99.9 85.9,102.2 86.0,103.8 86.1,96.1 86.2,97.8 86.3,102.5 86.4,102.9 86.5,95.8 86.6,96.9 86.7,100.3 86.8,93.2 86.9,100.3 86.9,103.1 87.0,95.1 87.1,99.9 87.2,97.9 87.3,99.1 87.4,103.0 87.5,102.7 87.6,99.8 87.7,95.1 87.8,102.2 87.9,95.2 87.9,98.6 88.0,102.5 88.1,98.5 88.2,97.6 88.3,101.9 88.4,105.6 88.5,98.2 88.6,102.6 88.7,98.0 88.8,104.9 88.9,99.7 89.0,101.7 89.0,103.7 89.1,100.0 89.2,98.8 89.3,101.0 89.4,102.8 89.5,98.7 89.6,104.5 89.7,97.8 89.8,97.9 89.9,94.4 90.0,96.7 90.0,98.3 90.1,98.6 90.2,99.3 90.3,103.3 90.4,95.1 90.5,97.8 90.6,100.2 90.7,102.8 90.8,95.0 90.9,97.8 91.0,102.9 91.0,97.4 91.1,93.8 91.2,99.5 91.3,98.2 91.4,100.6 91.5,101.3 91.6,96.3 91.7,91.9 91.8,99.1 91.9,99.8 92.0,97.1 92.1,100.3 92.1,97.3 92.2,97.0 92.3,102.5 92.4,102.6 92.5,99.7 92.6,97.0 92.7,98.7 92.8,95.8 92.9,103.5 93.0,98.0 93.1,101.3 93.1,99.2 93.2,98.5 93.3,102.4 93.4,100.2 93.5,102.9 93.6,98.7 93.7,102.0 93.8,101.0 93.9,98.9 94.0,101.4 94.1,96.1 94.2,101.4 94.2,97.0 94.3,98.7 94.4,102.6 94.5,100.2 94.6,102.0 94.7,100.6 94.8,100.3 94.9,94.2 95.0,100.8 95.1,94.9 95.2,98.2 95.2,103.4 95.3,106.4 95.4,97.6 95.5,105.4 95.6,97.5 95.7,96.5 95.8,98.4 95.9,100.2 96.0,100.3 96.1,98.8 96.2,100.5 96.3,101.2 96.3,100.7 96.4,96.2 96.5,101.4 96.6,98.5 96.7,103.0 96.8,101.7 96.9,103.6 97.0,100.2 97.1,97.6 97.2,98.7 97.3,101.1 97.3,97.8 97.4,100.6 97.5,98.5 97.6,98.8 97.7,98.1 97.8,106.9 97.9,103.5 98.0,97.4 98.1,100.0 98.2,93.1 98.3,100.4 98.3,101.3 98.4,95.3 98.5,98.0 98.6,94.1 98.7,98.2 98.8,100.3 98.9,97.6 99.0,102.0 99.1,101.0 99.2,101.3 99.3,100.4 99.4,97.4 99.4,101.1 99.5,98.8 99.6,101.2 99.7,97.1 99.8,107.3 99.9,100.4 100.0,99.3 100.1,102.9 100.2,96.8 100.3,99.1 100.4,96.0 100.4,97.0 100.5,97.9 100.6,100.2 100.7,103.0 100.8,100.4 100.9,101.1 101.0,99.1 101.1,101.2 101.2,92.2 101.3,104.5 101.4,96.4 101.5,101.2 101.5,100.5 101.6,97.1 101.7,99.8 101.8,103.4 101.9,98.6 102.0,100.4 102.1,105.9 102.2,99.3 102.3,103.0 102.4,102.1 102.5,98.5 102.5,99.0 102.6,100.7 102.7,93.5 102.8,98.7 102.9,101.7 103.0,99.2 103.1,100.3 103.2,106.4 103.3,104.5 103.4,104.0 103.5,93.9 103.6,100.5 103.6,100.8 103.7,101.6 103.8,97.1 103.9,99.9 104.0,95.0 104.1,97.7 104.2,95.2 104.3,100.3 104.4,98.9 104.5,101.3 104.6,100.5 104.6,105.1 104.7,101.7 104.8,102.8 104.9,101.9 105.0,96.5 105.1,99.3 105.2,96.5 105.3,97.5 105.4,97.4 105.5,97.1 105.6,101.8 105.6,97.7 105.7,101.0 105.8,101.6 105.9,96.6 106.0,93.8 106.1,103.0 106.2,95.0 106.3,97.7 106.4,102.6 106.5,99.3 106.6,99.0 106.7,99.0 106.7,101.2 106.8,103.9 106.9,100.1 107.0,97.6 107.1,97.9 107.2,98.2 107.3,97.0 107.4,103.1 107.5,100.3 107.6,99.2 107.7,97.3 107.7,99.7 107.8,98.7 107.9,99.8 108.0,94.1 108.1,106.6 108.2,100.3 108.3,93.0 108.4,99.6 108.5,105.6 108.6,99.9 108.7,104.4 108.8,102.2 108.8,99.6 108.9,95.3 109.0,98.9 109.1,98.3 109.2,97.3 109.3,99.7 109.4,102.8 109.5,100.6 109.6,99.3 109.7,101.1 109.8,102.3 109.8,101.4 109.9,104.7 110.0,103.3 110.1,100.6 110.2,101.4 110.3,100.2 110.4,96.3 110.5,99.5 110.6,100.5 110.7,103.8 110.8,103.5 110.9,99.3 110.9,102.9 111.0,99.1 111.1,103.5 111.2,100.0 111.3,100.6 111.4,97.5 111.5,101.6 111.6,101.5 111.7,99.7 111.8,100.3 111.9,95.5 111.9,101.2 112.0,102.0 112.1,101.4 112.2,99.1 112.3,99.8 112.4,98.4 112.5,104.5 112.6,93.2 112.7,95.1 112.8,100.6 112.9,104.0 112.9,100.0 113.0,99.3 113.1,107.0 113.2,100.4 113.3,104.8 113.4,99.2 113.5,96.5 113.6,97.5 113.7,104.9 113.8,96.5 113.9,97.9 114.0,101.6 114.0,99.0 114.1,96.1 114.2,101.5 114.3,100.6 114.4,102.2 114.5,97.2 114.6,106.8 114.7,96.4 114.8,103.4 114.9,97.8 115.0,105.3 115.0,103.3 115.1,102.3 115.2,98.1 115.3,105.3 115.4,98.8 115.5,102.4 115.6,96.9 115.7,101.5 115.8,99.1 115.9,101.1 116.0,95.3 116.1,101.6 116.1,100.6 116.2,94.8 116.3,100.4 116.4,98.6 116.5,102.7 116.6,100.0 116.7,107.2 116.8,100.3 116.9,102.5 117.0,105.0 117.1,104.7 117.1,97.3 117.2,99.3 117.3,105.0 117.4,95.3 117.5,102.6 117.6,101.7 117.7,99.9 117.8,103.9 117.9,105.3 118.0,102.8 118.1,97.2 118.2,97.8 118.2,105.2 118.3,97.1 118.4,100.5 118.5,99.2 118.6,100.5 118.7,99.4 118.8,103.5 118.9,103.3 119.0,102.7 119.1,101.7 119.2,98.8 119.2,104.2 119.3,96.0 119.4,102.5 119.5,102.4 119.6,98.6 119.7,99.4 119.8,101.6 119.9,103.8 120.0,103.6 120.1,105.3 120.2,97.3 120.2,97.5 120.3,95.2 120.4,99.2 120.5,99.7 120.6,98.5 120.7,97.9 120.8,101.4 120.9,99.7 121.0,94.4 121.1,105.6 121.2,104.8 121.3,103.5 121.3,98.5 121.4,97.2 121.5,101.7 121.6,98.8 121.7,100.9 121.8,99.8 121.9,102.3 122.0,100.8 122.1,100.7 122.2,97.4 122.3,94.2 122.3,106.0 122.4,99.2 122.5,100.8 122.6,97.9 122.7,97.6 122.8,98.5 122.9,98.4 123.0,103.5 123.1,105.7 123.2,95.9 123.3,97.2 123.4,103.5 123.4,97.0 123.5,98.8 123.6,107.9 123.7,98.1 123.8,103.7 123.9,97.4 124.0,102.8 124.1,102.9 124.2,105.3 124.3,101.4 124.4,97.8 124.4,102.7 124.5,106.2 124.6,94.5 124.7,95.4 124.8,98.8 124.9,102.3 125.0,104.3 125.1,105.6 125.2,99.1 125.3,97.0 125.4,103.9 125.5,100.8 125.5,101.6 125.6,101.5 125.7,99.3 125.8,94.6 125.9,102.6 126.0,98.3 126.1,97.6 126.2,101.6 126.3,101.2 126.4,104.7 126.5,97.6 126.5,102.3 126.6,102.6 126.7,100.5 126.8,103.2 126.9,103.8 127.0,101.6 127.1,96.3 127.2,101.3 127.3,99.1 127.4,104.9 127.5,106.3 127.5,95.3 127.6,101.8 127.7,105.1 127.8,100.9 127.9,98.8 128.0,105.6 128.1,103.1 128.2,99.8 128.3,103.2 128.4,98.1 128.5,97.6 128.6,99.1 128.6,101.6 128.7,100.5 128.8,102.1 128.9,100.6 129.0,99.3 129.1,101.0 129.2,97.2 129.3,92.4 129.4,101.6 129.5,98.9 129.6,97.4 129.6,97.8 129.7,100.3 129.8,100.9 129.9,96.4 130.0,97.4 130.1,97.6 130.2,101.3 130.3,96.9 130.4,96.3 130.5,98.9 130.6,96.3 130.7,91.6 130.7,103.2 130.8,95.7 130.9,100.7 131.0,101.0 131.1,97.4 131.2,94.8 131.3,96.0 131.4,98.7 131.5,99.1 131.6,96.6 131.7,94.9 131.7,96.7 131.8,98.1 131.9,89.6 132.0,95.9 132.1,93.9 132.2,94.7 132.3,94.6 132.4,92.9 132.5,93.6 132.6,91.3 132.7,95.7 132.8,96.5 132.8,88.0 132.9,93.2 133.0,91.2 133.1,90.4 133.2,92.2 133.3,93.7 133.4,98.0 133.5,98.4 133.6,92.2 133.7,93.3 133.8,93.9 133.8,99.8 133.9,101.3 134.0,98.9 134.1,99.5 134.2,96.4 134.3,99.6 134.4,93.4 134.5,99.2 134.6,99.3 134.7,95.9 134.8,97.5 134.8,100.8 134.9,96.7 135.0,94.1 135.1,102.2 135.2,99.9 135.3,102.1 135.4,104.4 135.5,98.1 135.6,98.0 135.7,97.4 135.8,98.9 135.9,105.1 135.9,100.2 136.0,101.9 136.1,103.3 136.2,103.2 136.3,98.5 136.4,101.2 136.5,95.6 136.6,99.4 136.7,105.4 136.8,98.4 136.9,97.6 136.9,100.7 137.0,103.8 137.1,96.4 137.2,104.2 137.3,101.1 137.4,105.7 137.5,104.1 137.6,105.2 137.7,98.2 137.8,98.0 137.9,102.0 138.0,104.4 138.0,101.2 138.1,100.1 138.2,104.9 138.3,104.0 138.4,101.4 138.5,99.4 138.6,101.0 138.7,100.0 138.8,104.3 138.9,107.5 139.0,100.4 139.0,103.5 139.1,101.5 139.2,102.2 139.3,100.0 139.4,103.2 139.5,97.6 139.6,101.2 139.7,100.0 139.8,99.7 139.9,98.7 140.0,100.3 140.1,105.7 140.1,102.9 140.2,96.6 140.3,100.1 140.4,99.9 140.5,100.2 140.6,103.0 140.7,103.1 140.8,103.0 140.9,98.5 141.0,100.5 141.1,96.9 141.1,100.1 141.2,96.6 141.3,100.2 141.4,104.4 141.5,97.0 141.6,100.6 141.7,98.4 141.8,100.9 141.9,102.2 142.0,101.0 142.1,104.3 142.1,104.5 142.2,103.7 142.3,102.8 142.4,104.9 142.5,101.7 142.6,100.7 142.7,96.3 142.8,96.8 142.9,101.5 143.0,99.2 143.1,102.0 143.2,100.4 143.2,101.5 143.3,102.8 143.4,101.2 143.5,105.1 143.6,100.3 143.7,102.1 143.8,104.1 143.9,102.3 144.0,99.9 144.1,103.1 144.2,100.1 144.2,99.9 144.3,97.4 144.4,104.1 144.5,101.6 144.6,100.0 144.7,97.4 144.8,100.6 144.9,99.3 145.0,105.0 145.1,102.7 145.2,97.0 145.3,101.9 145.3,95.6 145.4,103.0 145.5,101.8 145.6,105.1 145.7,99.4 145.8,100.3 145.9,95.8 146.0,100.5 146.1,101.6 146.2,104.5 146.3,101.1 146.3,98.4 146.4,98.9 146.5,97.6 146.6,98.5 146.7,100.7 146.8,99.0 146.9,100.1 147.0,103.9 147.1,96.0 147.2,99.4 147.3,103.0 147.4,99.2 147.4,99.4 147.5,97.5 147.6,96.2 147.7,106.3 147.8,98.3 147.9,95.7 148.0,101.9 148.1,104.1 148.2,98.5 148.3,98.2 148.4,98.0 148.4,101.5 148.5,99.7 148.6,97.7 148.7,96.1 148.8,92.1 148.9,96.6 149.0,98.5 149.1,102.6 149.2,93.4 149.3,96.0 149.4,95.4 149.4,97.0 149.5,91.9 149.6,97.6 149.7,91.9 149.8,91.0 149.9,89.5 150.0,85.9 150.1,88.3 150.2,86.5 150.3,83.2 150.4,87.9 150.5,83.1 150.5,80.5 150.6,76.5 150.7,79.2 150.8,73.2 150.9,72.3 151.0,75.1 151.1,73.1 151.2,70.9 151.3,64.9 151.4,62.9 151.5,59.8 151.5,57.9 151.6,60.1 151.7,54.8 151.8,54.6 151.9,54.9 152.0,54.7 152.1,59.5 152.2,55.8 152.3,60.2 152.4,61.8 152.5,61.0 152.6,61.3 152.6,63.6 152.7,66.2 152.8,69.9 152.9,68.9 153.0,73.3 153.1,77.0 153.2,75.1 153.3,73.5 153.4,80.1 153.5,83.6 153.6,79.0 153.6,79.7 153.7,86.3 153.8,87.5 153.9,87.7 154.0,83.0 154.1,90.2 154.2,89.0 154.3,91.3 154.4,98.0 154.5,96.9 154.6,97.9 154.7,94.3 154.7,95.7 154.8,91.9 154.9,97.6 155.0,96.5 155.1,97.5 155.2,97.7 155.3,92.4 155.4,97.9 155.5,95.1 155.6,95.8 155.7,100.9 155.7,97.7 155.8,100.7 155.9,99.6 156.0,99.6 156.1,100.1 156.2,101.5 156.3,96.4 156.4,101.2 156.5,98.8 156.6,96.4 156.7,99.2 156.7,98.3 156.8,97.4 156.9,98.3 157.0,96.7 157.1,104.9 157.2,96.3 157.3,101.3 157.4,105.9 157.5,103.2 157.6,105.2 157.7,101.7 157.8,105.5 157.8,104.3 157.9,101.0 158.0,101.4 158.1,103.9 158.2,102.5 158.3,102.2 158.4,101.8 158.5,102.1 158.6,102.7 158.7,99.9 158.8,106.3 158.8,103.5 158.9,101.9 159.0,103.3 159.1,103.8 159.2,103.5 159.3,101.9 159.4,99.2 159.5,103.0 159.6,103.2 159.7,101.6 159.8,103.2 159.9,107.6 159.9,101.9 160.0,103.6 160.1,104.2 160.2,101.1 160.3,102.6 160.4,104.2 160.5,108.4 160.6,107.3 160.7,102.8 160.8,103.2 160.9,101.8 160.9,102.3 161.0,104.2 161.1,106.2 161.2,105.8 161.3,103.4 161.4,106.0 161.5,101.1 161.6,106.5 161.7,107.7 161.8,103.6 161.9,107.7 162.0,98.9 162.0,105.7 162.1,103.3 162.2,103.8 162.3,105.3 162.4,107.8 162.5,108.1 162.6,101.0 162.7,100.7 162.8,97.7 162.9,107.1 163.0,101.9 163.0,103.4 163.1,101.2 163.2,104.7 163.3,101.5 163.4,101.1 163.5,101.9 163.6,99.7 163.7,103.9 163.8,99.5 163.9,105.3 164.0,99.2 164.0,110.0 164.1,103.5 164.2,105.6 164.3,103.6 164.4,100.9 164.5,101.7 164.6,103.4 164.7,99.2 164.8,107.4 164.9,105.7 165.0,99.7 165.1,102.8 165.1,109.0 165.2,102.8 165.3,106.8 165.4,99.9 165.5,100.8 165.6,105.1 165.7,100.4 165.8,105.9 165.9,101.4 166.0,102.3 166.1,104.1 166.1,107.5 166.2,104.5 166.3,109.7 166.4,105.3 166.5,108.6 166.6,100.7 166.7,106.3 166.8,110.1 166.9,102.3 167.0,102.9 167.1,105.2 167.2,98.4 167.2,101.9 167.3,103.7 167.4,105.6 167.5,110.4 167.6,102.7 167.7,101.4 167.8,105.4 167.9,107.6 168.0,104.0 168.1,108.3 168.2,103.9 168.2,102.0 168.3,100.1 168.4,103.3 168.5,103.5 168.6,102.1 168.7,100.4 168.8,104.8 168.9,107.2 169.0,106.1 169.1,107.3 169.2,106.4 169.3,104.4 169.3,103.2 169.4,103.7 169.5,103.9 169.6,105.0 169.7,103.0 169.8,101.9 169.9,102.2 170.0,100.3 170.1,104.9 170.2,104.8 170.3,99.8 170.3,103.7 170.4,103.2 170.5,105.1 170.6,101.7 170.7,105.3 170.8,106.9 170.9,104.4 171.0,105.4 171.1,102.2 171.2,105.3 171.3,104.0 171.3,104.9 171.4,103.5 171.5,106.0 171.6,101.5 171.7,108.1 171.8,105.4 171.9,106.3 172.0,102.8 172.1,104.3 172.2,103.2 172.3,105.3 172.4,106.3 172.4,107.4 172.5,105.4 172.6,105.9 172.7,103.8 172.8,103.6 172.9,102.0 173.0,104.8 173.1,106.5 173.2,107.3 173.3,104.4 173.4,103.7 173.4,99.6 173.5,104.2 173.6,100.1 173.7,99.8 173.8,107.4 173.9,101.5 174.0,101.7 174.1,101.2 174.2,104.7 174.3,102.2 174.4,105.9 174.5,104.9 174.5,104.7 174.6,100.1 174.7,105.3 174.8,102.2 174.9,104.5 175.0,106.5 175.1,104.1 175.2,103.0 175.3,106.5 175.4,103.1 175.5,106.5 175.5,106.9 175.6,104.1 175.7,105.3 175.8,107.2 175.9,108.8 176.0,104.5 176.1,103.9 176.2,105.7 176.3,104.0 176.4,108.4 176.5,103.4 176.6,103.3 176.6,103.6 176.7,105.8 176.8,103.9 176.9,103.7 177.0,101.2 177.1,103.2 177.2,103.1 177.3,105.5 177.4,101.3 177.5,100.4 177.6,104.6 177.6,101.5 177.7,102.2 177.8,102.9 177.9,105.9 178.0,97.9 178.1,107.0 178.2,101.2 178.3,102.8 178.4,98.6 178.5,102.4 178.6,101.0 178.6,99.2 178.7,99.4 178.8,101.7 178.9,98.3 179.0,98.8 179.1,97.0 179.2,100.6 179.3,99.2 179.4,99.9 179.5,100.8 179.6,97.8 179.7,97.2 179.7,94.5 179.8,98.9 179.9,97.0 180.0,95.0 180.1,98.2 180.2,97.8 180.3,97.7 180.4,99.9 180.5,100.8 180.6,95.6 180.7,98.2 180.7,99.1 180.8,102.3 180.9,99.1 181.0,96.6 181.1,102.9 181.2,102.5 181.3,97.7 181.4,97.1 181.5,97.1 181.6,102.8 181.7,100.2 181.8,103.9 181.8,100.9 181.9,103.5 182.0,102.3 182.1,99.6 182.2,102.4 182.3,104.1 182.4,103.6 182.5,103.2 182.6,105.4 182.7,103.8 182.8,102.9 182.8,100.6 182.9,110.1 183.0,108.0 183.1,108.3 183.2,102.9 183.3,99.0 183.4,104.9 183.5,105.2 183.6,102.7 183.7,112.0 183.8,106.3 183.9,112.4 183.9,105.6 184.0,107.4 184.1,107.4 184.2,105.3 184.3,107.7 184.4,103.4 184.5,106.3 184.6,105.4 184.7,100.0 184.8,107.6 184.9,104.1 184.9,108.7 185.0,103.4 185.1,104.1 185.2,106.3 185.3,104.1 185.4,102.6 185.5,103.2 185.6,106.8 185.7,106.9 185.8,104.0 185.9,110.6 185.9,108.4 186.0,105.8 186.1,105.7 186.2,102.9 186.3,103.2 186.4,106.2 186.5,106.0 186.6,109.7 186.7,107.3 186.8,106.4 186.9,107.4 187.0,106.8 187.0,105.7 187.1,109.0 187.2,108.2 187.3,110.8 187.4,104.6 187.5,109.3 187.6,110.6 187.7,105.4 187.8,107.5 187.9,105.0 188.0,107.8 188.0,102.5 188.1,105.5 188.2,106.7 188.3,106.8 188.4,107.5 188.5,105.4 188.6,102.8 188.7,108.0 188.8,109.4 188.9,105.8 189.0,104.8 189.1,110.3 189.1,108.6 189.2,109.2 189.3,105.9 189.4,106.0 189.5,108.7 189.6,109.5 189.7,105.7 189.8,111.5 189.9,105.8 190.0,107.5 190.1,103.1 190.1,105.0 190.2,108.4 190.3,107.7 190.4,107.7 190.5,108.7 190.6,107.0 190.7,105.1 190.8,110.3 190.9,107.6 191.0,104.0 191.1,105.6 191.2,108.9 191.2,108.9 191.3,109.0 191.4,110.6 191.5,104.8 191.6,107.0 191.7,108.7 191.8,110.2 191.9,108.0 192.0,108.3 192.1,103.6 192.2,108.2 192.2,107.0 192.3,104.9 192.4,105.8 192.5,107.6 192.6,111.8 192.7,104.3 192.8,105.9 192.9,108.1 193.0,107.4 193.1,109.2 193.2,109.1 193.2,110.3 193.3,106.2 193.4,106.1 193.5,106.9 193.6,105.6 193.7,106.1 193.8,107.0 193.9,109.1 194.0,106.0 194.1,104.7 194.2,105.9 194.3,104.6 194.3,108.2 194.4,109.3 194.5,104.6 194.6,108.5 194.7,106.7 194.8,107.6 194.9,107.2 195.0,107.8 195.1,108.4 195.2,111.0 195.3,103.2 195.3,106.8 195.4,111.3 195.5,109.1 195.6,109.6 195.7,108.8 195.8,112.6 195.9,106.0 196.0,103.8 196.1,107.8 196.2,105.7 196.3,106.0 196.4,109.9 196.4,104.7 196.5,110.8 196.6,108.5 196.7,108.0 196.8,104.6 196.9,107.0 197.0,107.5 197.1,108.9 197.2,107.1 197.3,107.2 197.4,105.7 197.4,104.3 197.5,105.7 197.6,107.2 197.7,107.6 197.8,103.9 197.9,106.8 198.0,107.3 198.1,103.5 198.2,104.0 198.3,106.1 198.4,107.5 198.5,108.6 198.5,105.0 198.6,108.2 198.7,105.2 198.8,108.9 198.9,107.0 199.0,106.4 199.1,107.0 199.2,106.8 199.3,106.5 199.4,109.6 199.5,109.6 199.5,107.6 199.6,103.5 199.7,107.5 199.8,109.2 199.9,108.6 200.0,107.2 200.1,104.8 200.2,108.5 200.3,106.1 200.4,106.9 200.5,108.0 200.5,109.2 200.6,107.6 200.7,108.7 200.8,106.1 200.9,110.9 201.0,104.8 201.1,105.6 201.2,105.9 201.3,104.0 201.4,105.8 201.5,110.6 201.6,106.9 201.6,106.1 201.7,108.4 201.8,109.3 201.9,106.0 202.0,105.8 202.1,107.8 202.2,107.4 202.3,107.9 202.4,108.0 202.5,106.9 202.6,104.5 202.6,110.1 202.7,107.4 202.8,103.3 202.9,105.9 203.0,106.2 203.1,104.8 203.2,108.6 203.3,109.0 203.4,109.9 203.5,109.4 203.6,105.8 203.7,104.5 203.7,107.1 203.8,107.7 203.9,105.4 204.0,104.9 204.1,105.6 204.2,110.1 204.3,107.2 204.4,111.3 204.5,105.5 204.6,107.7 204.7,107.3 204.7,102.7 204.8,103.0 204.9,104.8 205.0,105.1 205.1,105.3 205.2,106.9 205.3,105.7 205.4,101.6 205.5,107.3 205.6,106.9 205.7,105.1 205.8,103.5 205.8,103.6 205.9,107.3 206.0,105.5 206.1,105.8 206.2,107.8 206.3,105.0 206.4,106.1 206.5,103.1 206.6,104.1 206.7,106.6 206.8,104.8 206.8,105.6 206.9,106.2 207.0,105.8 207.1,102.5 207.2,105.6 207.3,108.3 207.4,106.3 207.5,102.9 207.6,100.1 207.7,106.7 207.8,105.2 207.8,105.1 207.9,107.3 208.0,103.5 208.1,104.4 208.2,103.7 208.3,99.6 208.4,104.8 208.5,102.5 208.6,102.4 208.7,105.4 208.8,105.3 208.9,100.8 208.9,102.5 209.0,103.7 209.1,106.2 209.2,102.1 209.3,102.8 209.4,99.3 209.5,100.7 209.6,102.1 209.7,103.2 209.8,103.6 209.9,104.8 209.9,103.0 210.0,103.1 210.1,102.2 210.2,101.3 210.3,102.9 210.4,104.6 210.5,101.8 210.6,100.2 210.7,105.2 210.8,102.5 210.9,102.2 211.0,102.2 211.0,102.3 211.1,103.5 211.2,103.5 211.3,99.8 211.4,99.7 211.5,106.2 211.6,108.5 211.7,102.3 211.8,104.6 211.9,104.3 212.0,106.6 212.0,102.5 212.1,103.4 212.2,104.4 212.3,101.4 212.4,98.2 212.5,100.2 212.6,100.8 212.7,104.1 212.8,101.9 212.9,103.4 213.0,100.9 213.1,102.1 213.1,103.4 213.2,102.2 213.3,104.8 213.4,101.7 213.5,100.2 213.6,104.1 213.7,102.2 213.8,106.8 213.9,101.4 214.0,101.5 214.1,105.5 214.1,99.7 214.2,103.1 214.3,107.0 214.4,106.2 214.5,101.6 214.6,104.0 214.7,101.1 214.8,106.6 214.9,103.6 215.0,101.4 215.1,104.8 215.1,102.0 215.2,104.2 215.3,102.7 215.4,102.8 215.5,98.8 215.6,106.0 215.7,101.8 215.8,100.7 215.9,105.8 216.0,103.3 216.1,98.7 216.2,101.3 216.2,108.8 216.3,104.0 216.4,107.1 216.5,102.9 216.6,105.0 216.7,104.7 216.8,105.3 216.9,102.9 217.0,104.5 217.1,105.4 217.2,104.0 217.2,102.7 217.3,105.3 217.4,101.2 217.5,107.0 217.6,102.7 217.7,104.4 217.8,100.3 217.9,104.9 218.0,105.0 218.1,106.4 218.2,99.4 218.3,102.3 218.3,105.8 218.4,104.3 218.5,105.6 218.6,100.4 218.7,102.7 218.8,107.8 218.9,103.2 219.0,101.7 219.1,103.6 219.2,102.7 219.3,103.9 219.3,103.3 219.4,103.3 219.5,105.2 219.6,103.1 219.7,103.5 219.8,103.9 219.9,105.3 220.0,106.0 220.1,103.4 220.2,102.3 220.3,109.0 220.4,105.2 220.4,101.3 220.5,102.2 220.6,105.6 220.7,101.4 220.8,106.3 220.9,105.9 221.0,100.3 221.1,105.3 221.2,104.8 221.3,107.9 221.4,106.6 221.4,107.0 221.5,104.9 221.6,108.4 221.7,102.4 221.8,105.4 221.9,106.0 222.0,106.1 222.1,103.3 222.2,101.7 222.3,105.8 222.4,101.6 222.4,101.6 222.5,102.2 222.6,104.5 222.7,108.2 222.8,103.8 222.9,106.1 223.0,104.8 223.1,109.2 223.2,105.9 223.3,104.9 223.4,107.3 223.5,104.8 223.5,102.0 223.6,105.0 223.7,107.0 223.8,100.6 223.9,110.1 224.0,107.6 224.1,104.8 224.2,106.9 224.3,110.5 224.4,105.2 224.5,104.1 224.5,107.5 224.6,102.8 224.7,104.8 224.8,103.4 224.9,109.1 225.0,105.9 225.1,102.6 225.2,101.8 225.3,103.2 225.4,106.0 225.5,105.6 225.6,107.3 225.6,103.7 225.7,107.5 225.8,105.8 225.9,110.3 226.0,109.1 226.1,102.3 226.2,105.9 226.3,105.5 226.4,110.5 226.5,106.0 226.6,101.5 226.6,108.9 226.7,110.7 226.8,106.1 226.9,106.8 227.0,106.1 227.1,108.2 227.2,108.4 227.3,108.1 227.4,104.1 227.5,105.4 227.6,103.5 227.7,107.4 227.7,103.8 227.8,105.9 227.9,104.7 228.0,102.8 228.1,104.5 228.2,105.2 228.3,107.7 228.4,104.0 228.5,102.3 228.6,105.0 228.7,103.6 228.7,106.9 228.8,105.7 228.9,101.8 229.0,99.6 229.1,102.6 229.2,105.1 229.3,102.0 229.4,104.1 229.5,101.0 229.6,95.9 229.7,98.8 229.7,99.3 229.8,96.3 229.9,98.7 230.0,96.6 230.1,96.3 230.2,95.3 230.3,98.7 230.4,93.5 230.5,92.6 230.6,98.7 230.7,98.7 230.8,94.7 230.8,89.3 230.9,92.0 231.0,90.2 231.1,90.2 231.2,89.3 231.3,92.4 231.4,92.2 231.5,90.3 231.6,89.9 231.7,90.2 231.8,91.0 231.8,93.1 231.9,90.1 232.0,91.9 232.1,91.2 232.2,99.3 232.3,92.4 232.4,100.3 232.5,95.3 232.6,97.7 232.7,96.6 232.8,98.5 232.9,98.7 232.9,98.2 233.0,98.4 233.1,101.3 233.2,105.4 233.3,102.2 233.4,99.9 233.5,103.2 233.6,100.9 233.7,103.0 233.8,104.5 233.9,100.4 233.9,99.7 234.0,103.6 234.1,103.8 234.2,101.9 234.3,107.0 234.4,106.2 234.5,102.2 234.6,102.8 234.7,105.9 234.8,106.7 234.9,104.4 235.0,108.2 235.0,106.4 235.1,106.0 235.2,110.8 235.3,104.4 235.4,104.1 235.5,103.6 235.6,108.9 235.7,108.7 235.8,107.7 235.9,108.8 236.0,101.8 236.0,108.2 236.1,106.9 236.2,105.8 236.3,105.3 236.4,103.3 236.5,108.7 236.6,104.5 236.7,106.1 236.8,108.9 236.9,106.2 237.0,109.5 237.0,103.1 237.1,108.1 237.2,104.5 237.3,103.8 237.4,107.9 237.5,108.6 237.6,106.4 237.7,108.9 237.8,104.8 237.9,106.4 238.0,108.4 238.1,108.2 238.1,105.2 238.2,109.9 238.3,103.2 238.4,108.5 238.5,107.2 238.6,108.8 238.7,103.4 238.8,105.1 238.9,104.1 239.0,105.5 239.1,106.7 239.1,103.3 239.2,105.5 239.3,106.0 239.4,105.7 239.5,105.4 239.6,106.4 239.7,107.3 239.8,110.4 239.9,102.6 240.0,109.8 240.1,111.6 240.2,108.5 240.2,102.9 240.3,104.4 240.4,108.3 240.5,106.4 240.6,107.1 240.7,111.3 240.8,107.7 240.9,106.4 241.0,104.5 241.1,109.6 241.2,111.8 241.2,110.4 241.3,106.3 241.4,106.9 241.5,106.7 241.6,106.7 241.7,107.8 241.8,109.9 241.9,106.1 242.0,106.2 242.1,105.8 242.2,104.4 242.3,109.7 242.3,112.0 242.4,110.8 242.5,102.4 242.6,109.0 242.7,106.1 242.8,107.0 242.9,105.4 243.0,101.6 243.1,108.1 243.2,107.3 243.3,108.3 243.3,106.4 243.4,105.8 243.5,109.0 243.6,104.1 243.7,104.5 243.8,106.0 243.9,107.2 244.0,107.4 244.1,110.4 244.2,105.5 244.3,109.0 244.3,108.0 244.4,104.7 244.5,108.8 244.6,108.0 244.7,105.0 244.8,102.9 244.9,108.3 245.0,104.4 245.1,108.2 245.2,105.9 245.3,105.7 245.4,109.2 245.4,104.5 245.5,102.9 245.6,106.6 245.7,106.1 245.8,109.2 245.9,102.8 246.0,106.5 246.1,109.3 246.2,104.9 246.3,109.7 246.4,108.0 246.4,111.0 246.5,103.5 246.6,101.7 246.7,107.7 246.8,107.7 246.9,107.5 247.0,107.5 247.1,105.0 247.2,103.0 247.3,108.3 247.4,105.1 247.5,109.8 247.5,102.7 247.6,106.0 247.7,107.3 247.8,102.4 247.9,105.8 248.0,102.6 248.1,103.1 248.2,101.7 248.3,106.8 248.4,104.9 248.5,104.1 248.5,105.1 248.6,101.2 248.7,105.8 248.8,101.9 248.9,100.9 249.0,107.8 249.1,105.4 249.2,105.0 249.3,103.9 249.4,101.6 249.5,102.4 249.6,101.5 249.6,102.2 249.7,101.0 249.8,99.3 249.9,98.3 250.0,101.0 250.1,99.1 250.2,99.9 250.3,98.1 250.4,100.2 250.5,94.4 250.6,94.4 250.6,95.5 250.7,96.0 250.8,94.8 250.9,94.6 251.0,95.8 251.1,88.4 251.2,85.9 251.3,93.3 251.4,92.6 251.5,88.4 251.6,87.9 251.6,92.1 251.7,92.6 251.8,87.1 251.9,92.4 252.0,85.0 252.1,89.2 252.2,88.1 252.3,88.5 252.4,90.0 252.5,89.5 252.6,90.3 252.7,87.5 252.7,90.9 252.8,91.4 252.9,93.1 253.0,93.9 253.1,94.8 253.2,93.9 253.3,90.6 253.4,92.9 253.5,95.4 253.6,93.0 253.7,95.0 253.7,97.3 253.8,98.7 253.9,101.3 254.0,98.9 254.1,100.6 254.2,103.9 254.3,103.7 254.4,97.2 254.5,101.3 254.6,101.1 254.7,102.1 254.8,103.9 254.8,102.2 254.9,101.1 255.0,104.4 255.1,102.9 255.2,102.0 255.3,105.5 255.4,104.3 255.5,106.4 255.6,103.7 255.7,105.9 255.8,102.8 255.8,107.1 255.9,101.9 256.0,106.3 256.1,107.6 256.2,107.8 256.3,104.5 256.4,107.9 256.5,102.2 256.6,103.4 256.7,105.1 256.8,109.3 256.9,106.4 256.9,108.0 257.0,110.3 257.1,105.6 257.2,101.8 257.3,107.7 257.4,104.9 257.5,103.9 257.6,108.8 257.7,107.5 257.8,106.2 257.9,105.8 257.9,109.3 258.0,106.4 258.1,107.1 258.2,104.9 258.3,110.3 258.4,108.2 258.5,108.0 258.6,107.7 258.7,105.5 258.8,108.4 258.9,101.7 258.9,108.6 259.0,105.4 259.1,105.1 259.2,105.2 259.3,107.5 259.4,108.8 259.5,107.7 259.6,105.9 259.7,107.0 259.8,106.1 259.9,106.1 260.0,109.0 260.0,109.1 260.1,104.4 260.2,108.2 260.3,110.4 260.4,103.7 260.5,109.0 260.6,109.2 260.7,105.4 260.8,109.6 260.9,109.1 261.0,105.3 261.0,109.0 261.1,102.5 261.2,107.2 261.3,102.5 261.4,107.2 261.5,107.3 261.6,108.7 261.7,107.9 261.8,108.4 261.9,107.5 262.0,106.0 262.1,110.0 262.1,109.3 262.2,111.6 262.3,104.6 262.4,107.7 262.5,107.6 262.6,107.7 262.7,105.6 262.8,106.9 262.9,105.9 263.0,107.9 263.1,107.8 263.1,107.7 263.2,111.2 263.3,105.5 263.4,110.7 263.5,109.6 263.6,106.3 263.7,107.5 263.8,106.0 263.9,104.3 264.0,104.0 264.1,104.9 264.2,108.1 264.2,103.6 264.3,109.4 264.4,107.8 264.5,105.7 264.6,108.1 264.7,107.9 264.8,108.4 264.9,105.0 265.0,112.6 265.1,105.2 265.2,105.6 265.2,107.9 265.3,106.6 265.4,109.6 265.5,105.6 265.6,102.8 265.7,109.6 265.8,105.0 265.9,107.9 266.0,108.4 266.1,108.7 266.2,108.2 266.2,110.2 266.3,110.5 266.4,104.5 266.5,107.8 266.6,106.7 266.7,107.2 266.8,106.9 266.9,110.8 267.0,109.7 267.1,106.6 267.2,105.9 267.3,110.1 267.3,109.0 267.4,109.9 267.5,106.6 267.6,107.2 267.7,107.8 267.8,109.1 267.9,107.2 268.0,107.8 268.1,109.3 268.2,107.2 268.3,109.2 268.3,106.0 268.4,106.7 268.5,109.3 268.6,106.8 268.7,107.8 268.8,109.3 268.9,109.7 269.0,111.2 269.1,110.1 269.2,107.3 269.3,105.6 269.4,109.2 269.4,107.6 269.5,107.3 269.6,106.4 269.7,107.1 269.8,105.6 269.9,106.5 270.0,109.5 270.1,107.2 270.2,112.6 270.3,108.3 270.4,107.9 270.4,106.8 270.5,108.6 270.6,106.4 270.7,105.4 270.8,109.6 270.9,109.1 271.0,107.5 271.1,107.1 271.2,107.7 271.3,106.4 271.4,110.3 271.5,106.5 271.5,105.7 271.6,105.9 271.7,107.2 271.8,108.5 271.9,107.3 272.0,108.2 272.1,111.2 272.2,109.2 272.3,108.1 272.4,109.1 272.5,109.9 272.5,108.5 272.6,108.8 272.7,107.9 272.8,108.2 272.9,107.7 273.0,106.1 273.1,107.8 273.2,107.3 273.3,110.5 273.4,113.0 273.5,108.9 273.5,106.8 273.6,108.8 273.7,109.3 273.8,110.5 273.9,106.4 274.0,109.2 274.1,107.6 274.2,105.9 274.3,107.1 274.4,103.7 274.5,108.4 274.6,106.3 274.6,106.8 274.7,109.4 274.8,108.0 274.9,109.2 275.0,110.2 275.1,107.6 275.2,109.7 275.3,104.9 275.4,109.6 275.5,109.2 275.6,108.0 275.6,109.2 275.7,108.1 275.8,109.4 275.9,111.0 276.0,112.9 276.1,110.7 276.2,105.2 276.3,107.3 276.4,107.9 276.5,109.1 276.6,108.5 276.7,107.6 276.7,110.9 276.8,109.8 276.9,109.9 277.0,105.7 277.1,110.3 277.2,105.9 277.3,109.1 277.4,103.3 277.5,108.3 277.6,108.1 277.7,105.5 277.7,106.5 277.8,106.4 277.9,110.3 278.0,106.0 278.1,104.9 278.2,108.4 278.3,109.1 278.4,110.3 278.5,106.2 278.6,107.6 278.7,108.2 278.8,110.6 278.8,105.0 278.9,106.5 279.0,108.2 279.1,105.3 279.2,110.1 279.3,106.5 279.4,110.2 279.5,105.4 279.6,108.7 279.7,105.8 279.8,109.0 279.8,107.4 279.9,106.0 280.0,110.0 280.1,108.0 280.2,109.9 280.3,106.5 280.4,109.4 280.5,108.9 280.6,108.6 280.7,105.9 280.8,110.3 280.8,108.3 280.9,108.9 281.0,109.3 281.1,109.8 281.2,108.5 281.3,107.8 281.4,111.2 281.5,107.8 281.6,110.5 281.7,108.2 281.8,103.7 281.9,110.1 281.9,108.3 282.0,108.7 282.1,106.3 282.2,109.1 282.3,111.7 282.4,111.4 282.5,107.9 282.6,107.7 282.7,106.1 282.8,109.3 282.9,106.9 282.9,110.3 283.0,105.7 283.1,108.4 283.2,109.5 283.3,107.9 283.4,104.8 283.5,109.9 283.6,110.6 283.7,110.2 283.8,110.5 283.9,108.3 284.0,107.5 284.0,108.5 284.1,107.8 284.2,105.9 284.3,108.8 284.4,110.7 284.5,112.7 284.6,107.7 284.7,109.6 284.8,108.7 284.9,107.4 285.0,107.3 285.0,111.3 285.1,110.1 285.2,108.1 285.3,108.5 285.4,106.0 285.5,109.2 285.6,112.3 285.7,105.9 285.8,111.4 285.9,110.1 286.0,107.5 286.1,110.3 286.1,103.3 286.2,107.8 286.3,107.2 286.4,109.1 286.5,103.9 286.6,107.2 286.7,109.6 286.8,105.8 286.9,111.5 287.0,109.4 287.1,107.7 287.1,108.0 287.2,110.1 287.3,105.1 287.4,105.3 287.5,110.1 287.6,107.5 287.7,109.5 287.8,109.1 287.9,106.3 288.0,108.0 288.1,108.4 288.1,108.0 288.2,110.5 288.3,105.8 288.4,109.7 288.5,105.7 288.6,109.1 288.7,109.1 288.8,105.3 288.9,107.9 289.0,109.5 289.1,109.3 289.2,107.0 289.2,104.6 289.3,107.0 289.4,109.0 289.5,110.4 289.6,109.5 289.7,108.5 289.8,107.7 289.9,109.5 290.0,105.7 290.1,110.1 290.2,109.6 290.2,107.3 290.3,107.3 290.4,109.0 290.5,106.3 290.6,111.0 290.7,105.0 290.8,103.9 290.9,104.4 291.0,108.0 291.1,104.4 291.2,108.1 291.3,105.6 291.3,108.6 291.4,107.9 291.5,107.2 291.6,111.7 291.7,108.6 291.8,104.9 291.9,113.1 292.0,107.5 292.1,106.4 292.2,107.6 292.3,107.9 292.3,105.5 292.4,107.6 292.5,111.9 292.6,110.1 292.7,108.8 292.8,108.0 292.9,109.1 293.0,108.4 293.1,105.0 293.2,113.1 293.3,106.0 293.4,106.4 293.4,107.1 293.5,108.2 293.6,108.1 293.7,107.5 293.8,107.8 293.9,109.7 294.0,106.7 294.1,109.9 294.2,108.3 294.3,108.9 294.4,110.5 294.4,107.0 294.5,108.4 294.6,110.5 294.7,108.4 294.8,110.9 294.9,105.4 295.0,107.2 295.1,104.3 295.2,109.3 295.3,106.9 295.4,110.1 295.4,109.9 295.5,108.4 295.6,107.4 295.7,106.4 295.8,108.8 295.9,106.1 296.0,106.3 296.1,110.0 296.2,108.6 296.3,110.0 296.4,104.9 296.5,109.3 296.5,106.5 296.6,106.4 296.7,108.7 296.8,109.2 296.9,107.6 297.0,109.8 297.1,110.7 297.2,110.1 297.3,107.6 297.4,107.9 297.5,104.8 297.5,111.8 297.6,107.3 297.7,110.5 297.8,106.0 297.9,106.9 298.0,108.0 298.1,105.4 298.2,109.0 298.3,109.3 298.4,110.3 298.5,109.5 298.6,108.0 298.6,106.9 298.7,105.7 298.8,108.8 298.9,109.7 299.0,108.9 299.1,109.1 299.2,109.2 299.3,109.0 299.4,109.9 299.5,108.3 299.6,109.2 299.6,108.6 299.7,110.9 299.8,108.0 299.9,107.1 300.0,107.0 300.1,109.3 300.2,110.5 300.3,110.8 300.4,110.5 300.5,109.5 300.6,108.8 300.7,111.7 300.7,106.9 300.8,111.2 300.9,109.6 301.0,109.6 301.1,106.6 301.2,104.7 301.3,108.9 301.4,108.8 301.5,109.0 301.6,108.6 301.7,108.6 301.7,103.4 301.8,110.4 301.9,108.5 302.0,109.8 302.1,107.5 302.2,109.3 302.3,107.1 302.4,110.3 302.5,104.1 302.6,107.8 302.7,111.7 302.8,106.9 302.8,109.2 302.9,110.5 303.0,107.4 303.1,109.2 303.2,106.8 303.3,109.3 303.4,106.5 303.5,108.0 303.6,107.5 303.7,107.9 303.8,109.0 303.8,108.9 303.9,107.4 304.0,106.9 304.1,109.0 304.2,103.9 304.3,105.0 304.4,110.5 304.5,106.1 304.6,108.4 304.7,107.8 304.8,109.8 304.8,105.0 304.9,109.8 305.0,108.4 305.1,109.6 305.2,104.5 305.3,105.8 305.4,110.8 305.5,109.1 305.6,107.5 305.7,109.1 305.8,108.9 305.9,110.3 305.9,107.8 306.0,110.4 306.1,106.6 306.2,103.6 306.3,108.9 306.4,105.1 306.5,107.5 306.6,109.5 306.7,108.9 306.8,110.1 306.9,108.0 306.9,106.9 307.0,106.4 307.1,108.8 307.2,110.6 307.3,108.4 307.4,105.0 307.5,107.7 307.6,108.4 307.7,112.3 307.8,109.1 307.9,107.2 308.0,110.1 308.0,105.6 308.1,109.3 308.2,109.9 308.3,109.4 308.4,108.4 308.5,106.3 308.6,109.3 308.7,111.7 308.8,108.4 308.9,107.2 309.0,105.3 309.0,110.4 309.1,105.4 309.2,106.9 309.3,107.4 309.4,109.7 309.5,109.9 309.6,110.1 309.7,106.4 309.8,107.8 309.9,106.2 310.0,104.7 310.1,108.2 310.1,108.3 310.2,104.6 310.3,110.8 310.4,109.1 310.5,109.0 310.6,109.0 310.7,108.0 310.8,109.9 310.9,106.0 311.0,110.9 311.1,109.8 311.1,111.5 311.2,111.0 311.3,107.1 311.4,107.0 311.5,108.6 311.6,106.6 311.7,107.1 311.8,109.4 311.9,108.3 312.0,107.5 312.1,104.4 312.1,109.1 312.2,107.5 312.3,107.2 312.4,105.9 312.5,107.4 312.6,106.2 312.7,110.3 312.8,108.7 312.9,112.0 313.0,108.3 313.1,103.7 313.2,107.8 313.2,108.1 313.3,107.7 313.4,108.0 313.5,110.8 313.6,109.6 313.7,108.6" fill="none" stroke="#ff0000" stroke-width="1.6" stroke-linejoin="round" stroke-linecap="round" />
<line x1="58.40" y1="11.70" x2="58.40" y2="204.00" stroke="#000" stroke-width="2.2"/>
<line x1="57.40" y1="203.00" x2="314.60" y2="203.00" stroke="#000" stroke-width="2.0"/>
<line x1="58.20" y1="203.00" x2="58.20" y2="206.60" stroke="#000" stroke-width="1.9"/>
<line x1="76.45" y1="203.00" x2="76.45" y2="205.30" stroke="#000" stroke-width="1.9"/>
<line x1="94.70" y1="203.00" x2="94.70" y2="206.60" stroke="#000" stroke-width="1.9"/>
<line x1="112.95" y1="203.00" x2="112.95" y2="205.30" stroke="#000" stroke-width="1.9"/>
<line x1="131.20" y1="203.00" x2="131.20" y2="206.60" stroke="#000" stroke-width="1.9"/>
<line x1="149.45" y1="203.00" x2="149.45" y2="205.30" stroke="#000" stroke-width="1.9"/>
<line x1="167.70" y1="203.00" x2="167.70" y2="206.60" stroke="#000" stroke-width="1.9"/>
<line x1="185.95" y1="203.00" x2="185.95" y2="205.30" stroke="#000" stroke-width="1.9"/>
<line x1="204.20" y1="203.00" x2="204.20" y2="206.60" stroke="#000" stroke-width="1.9"/>
<line x1="222.45" y1="203.00" x2="222.45" y2="205.30" stroke="#000" stroke-width="1.9"/>
<line x1="240.70" y1="203.00" x2="240.70" y2="206.60" stroke="#000" stroke-width="1.9"/>
<line x1="258.95" y1="203.00" x2="258.95" y2="205.30" stroke="#000" stroke-width="1.9"/>
<line x1="277.20" y1="203.00" x2="277.20" y2="206.60" stroke="#000" stroke-width="1.9"/>
<line x1="295.45" y1="203.00" x2="295.45" y2="205.30" stroke="#000" stroke-width="1.9"/>
<line x1="313.70" y1="203.00" x2="313.70" y2="206.60" stroke="#000" stroke-width="1.9"/>
<line x1="56.10" y1="191.00" x2="58.40" y2="191.00" stroke="#000" stroke-width="1.9"/>
<line x1="54.80" y1="168.70" x2="58.40" y2="168.70" stroke="#000" stroke-width="1.9"/>
<line x1="56.10" y1="146.40" x2="58.40" y2="146.40" stroke="#000" stroke-width="1.9"/>
<line x1="54.80" y1="124.10" x2="58.40" y2="124.10" stroke="#000" stroke-width="1.9"/>
<line x1="56.10" y1="101.80" x2="58.40" y2="101.80" stroke="#000" stroke-width="1.9"/>
<line x1="54.80" y1="79.50" x2="58.40" y2="79.50" stroke="#000" stroke-width="1.9"/>
<line x1="56.10" y1="57.20" x2="58.40" y2="57.20" stroke="#000" stroke-width="1.9"/>
<line x1="54.80" y1="34.90" x2="58.40" y2="34.90" stroke="#000" stroke-width="1.9"/>
<line x1="56.10" y1="12.60" x2="58.40" y2="12.60" stroke="#000" stroke-width="1.9"/>
<text transform="translate(58.60,217.90) scale(1,1.080)" font-family='"Liberation Serif", serif' font-size="11.7" font-weight="bold" text-anchor="middle">10</text>
<text transform="translate(95.10,217.90) scale(1,1.080)" font-family='"Liberation Serif", serif' font-size="11.7" font-weight="bold" text-anchor="middle">20</text>
<text transform="translate(131.60,217.90) scale(1,1.080)" font-family='"Liberation Serif", serif' font-size="11.7" font-weight="bold" text-anchor="middle">30</text>
<text transform="translate(168.10,217.90) scale(1,1.080)" font-family='"Liberation Serif", serif' font-size="11.7" font-weight="bold" text-anchor="middle">40</text>
<text transform="translate(204.60,217.90) scale(1,1.080)" font-family='"Liberation Serif", serif' font-size="11.7" font-weight="bold" text-anchor="middle">50</text>
<text transform="translate(241.10,217.90) scale(1,1.080)" font-family='"Liberation Serif", serif' font-size="11.7" font-weight="bold" text-anchor="middle">60</text>
<text transform="translate(277.60,217.90) scale(1,1.080)" font-family='"Liberation Serif", serif' font-size="11.7" font-weight="bold" text-anchor="middle">70</text>
<text transform="translate(314.10,217.90) scale(1,1.080)" font-family='"Liberation Serif", serif' font-size="11.7" font-weight="bold" text-anchor="middle">80</text>
<text transform="translate(52.50,172.80) scale(1,1.070)" font-family='"Liberation Serif", serif' font-size="11.9" font-weight="bold" text-anchor="end">1000</text>
<text transform="translate(52.50,128.20) scale(1,1.070)" font-family='"Liberation Serif", serif' font-size="11.9" font-weight="bold" text-anchor="end">2000</text>
<text transform="translate(52.50,83.60) scale(1,1.070)" font-family='"Liberation Serif", serif' font-size="11.9" font-weight="bold" text-anchor="end">3000</text>
<text transform="translate(52.50,39.00) scale(1,1.070)" font-family='"Liberation Serif", serif' font-size="11.9" font-weight="bold" text-anchor="end">4000</text>
<text transform="translate(156.20,14.20) rotate(-90)" font-family='"Liberation Serif", serif' font-size="12" font-weight="bold" text-anchor="middle">(311)</text>
<text transform="translate(136.80,111.20) rotate(-90)" font-family='"Liberation Serif", serif' font-size="12" font-weight="bold" text-anchor="middle">(220)</text>
<text transform="translate(185.30,128.50) rotate(-90)" font-family='"Liberation Serif", serif' font-size="12" font-weight="bold" text-anchor="middle">(400)</text>
<text transform="translate(221.50,151.30) rotate(-90)" font-family='"Liberation Serif", serif' font-size="12" font-weight="bold" text-anchor="middle">(422)</text>
<text transform="translate(235.00,128.80) rotate(-90)" font-family='"Liberation Serif", serif' font-size="12" font-weight="bold" text-anchor="middle">(511)</text>
<text transform="translate(255.30,114.20) rotate(-90)" font-family='"Liberation Serif", serif' font-size="12" font-weight="bold" text-anchor="middle">(440)</text>
<text x="268.10" y="45.70" font-family='"Liberation Serif", serif' font-size="14.8" font-weight="bold" text-anchor="middle" >(A)</text>
<text x="328.50" y="108.30" font-family='"Liberation Serif", serif' font-size="14.6" font-weight="bold" text-anchor="middle" >(b)</text>
<text x="328.00" y="186.40" font-family='"Liberation Serif", serif' font-size="14.6" font-weight="bold" text-anchor="middle" >(a)</text>
<text transform="translate(14.80,101.20) rotate(-90)" font-family='"Liberation Serif", serif' font-size="20" font-weight="bold" text-anchor="middle">Intensity (a.u.)</text>
<text transform="translate(138.30,238.80) scale(1,0.930)" font-family='"Liberation Serif", serif' font-size="20" font-weight="bold" text-anchor="start">2 Theta</text>
<text x="208.00" y="238.80" font-family='"Liberation Serif", serif' font-size="11" font-weight="bold" text-anchor="start" >(</text>
<text x="212.30" y="235.30" font-family='"Liberation Serif", serif' font-size="11.8" font-weight="bold" text-anchor="start" textLength="7.4" lengthAdjust="spacingAndGlyphs">0</text>
<text x="221.00" y="238.80" font-family='"Liberation Serif", serif' font-size="11" font-weight="bold" text-anchor="start" >)</text>
<text x="347.00" y="193.20" font-family='"Liberation Sans", sans-serif' font-size="14.6" font-weight="normal" text-anchor="start" >5</text>
<path d="M434.40,17.84 C435.18,18.30 437.54,19.34 439.10,20.62 C440.66,21.91 442.20,23.96 443.75,25.54 C445.30,27.13 446.32,28.82 448.40,30.14 C450.49,31.45 453.91,32.38 456.26,33.42 C458.61,34.45 460.54,35.33 462.50,36.37 C464.46,37.41 466.44,38.31 468.01,39.65 C469.58,40.99 470.22,42.16 471.90,44.40 C473.58,46.65 476.01,50.50 478.09,53.10 C480.18,55.69 482.33,57.91 484.41,59.98 C486.49,62.06 488.50,63.70 490.58,65.56 C492.66,67.42 494.81,69.44 496.90,71.14 C498.98,72.83 501.00,74.14 503.09,75.73 C505.17,77.31 507.32,78.95 509.40,80.65 C511.49,82.34 513.80,84.26 515.60,85.90 C517.40,87.54 518.41,88.57 520.20,90.49 C521.99,92.40 524.48,95.24 526.32,97.38 C528.16,99.51 529.58,101.20 531.22,103.28 C532.85,105.36 534.56,107.74 536.11,109.84 C537.66,111.94 538.97,113.78 540.52,115.91 C542.07,118.04 543.82,120.42 545.41,122.63 C547.01,124.85 548.52,127.06 550.07,129.19 C551.62,131.32 553.17,133.35 554.72,135.42 C556.27,137.50 558.06,139.96 559.37,141.66 C560.67,143.35 561.53,144.44 562.55,145.59 C563.57,146.74 564.18,147.23 565.49,148.54 C566.79,149.86 568.47,151.61 570.38,153.46 C572.30,155.32 574.63,157.56 576.99,159.70 C579.36,161.83 582.09,164.56 584.58,166.26 C587.07,167.95 589.72,168.96 591.93,169.86 C594.13,170.77 595.84,171.45 597.80,171.67 C599.76,171.89 601.72,171.34 603.68,171.18 C605.64,171.01 607.59,170.52 609.55,170.68 C611.51,170.85 613.51,171.59 615.43,172.16 C617.34,172.73 618.90,173.64 621.06,174.13 C623.22,174.62 626.44,174.84 628.40,175.11 C630.36,175.39 630.85,175.25 632.81,175.77 C634.77,176.29 637.99,177.44 640.15,178.23 C642.31,179.02 644.03,179.79 645.78,180.52 C647.54,181.26 649.86,182.30 650.68,182.66" fill="none" stroke="#7d0a0a" stroke-width="2.6" stroke-linecap="round"/>
<line x1="428.30" y1="1.00" x2="428.30" y2="200.00" stroke="#000" stroke-width="2.5"/>
<line x1="427.45" y1="198.80" x2="673.80" y2="198.80" stroke="#000" stroke-width="2.4"/>
<line x1="428.20" y1="198.80" x2="428.20" y2="202.10" stroke="#000" stroke-width="1.9"/>
<line x1="452.67" y1="198.80" x2="452.67" y2="201.00" stroke="#000" stroke-width="1.9"/>
<line x1="477.14" y1="198.80" x2="477.14" y2="202.10" stroke="#000" stroke-width="1.9"/>
<line x1="501.61" y1="198.80" x2="501.61" y2="201.00" stroke="#000" stroke-width="1.9"/>
<line x1="526.08" y1="198.80" x2="526.08" y2="202.10" stroke="#000" stroke-width="1.9"/>
<line x1="550.55" y1="198.80" x2="550.55" y2="201.00" stroke="#000" stroke-width="1.9"/>
<line x1="575.02" y1="198.80" x2="575.02" y2="202.10" stroke="#000" stroke-width="1.9"/>
<line x1="599.49" y1="198.80" x2="599.49" y2="201.00" stroke="#000" stroke-width="1.9"/>
<line x1="623.96" y1="198.80" x2="623.96" y2="202.10" stroke="#000" stroke-width="1.9"/>
<line x1="648.43" y1="198.80" x2="648.43" y2="201.00" stroke="#000" stroke-width="1.9"/>
<line x1="672.90" y1="198.80" x2="672.90" y2="202.10" stroke="#000" stroke-width="1.9"/>
<line x1="425.70" y1="198.49" x2="428.30" y2="198.49" stroke="#000" stroke-width="1.9"/>
<line x1="424.40" y1="182.10" x2="428.30" y2="182.10" stroke="#000" stroke-width="1.9"/>
<line x1="425.70" y1="165.72" x2="428.30" y2="165.72" stroke="#000" stroke-width="1.9"/>
<line x1="424.40" y1="149.33" x2="428.30" y2="149.33" stroke="#000" stroke-width="1.9"/>
<line x1="425.70" y1="132.94" x2="428.30" y2="132.94" stroke="#000" stroke-width="1.9"/>
<line x1="424.40" y1="116.56" x2="428.30" y2="116.56" stroke="#000" stroke-width="1.9"/>
<line x1="425.70" y1="100.17" x2="428.30" y2="100.17" stroke="#000" stroke-width="1.9"/>
<line x1="424.40" y1="83.79" x2="428.30" y2="83.79" stroke="#000" stroke-width="1.9"/>
<line x1="425.70" y1="67.41" x2="428.30" y2="67.41" stroke="#000" stroke-width="1.9"/>
<line x1="424.40" y1="51.02" x2="428.30" y2="51.02" stroke="#000" stroke-width="1.9"/>
<line x1="425.70" y1="34.64" x2="428.30" y2="34.64" stroke="#000" stroke-width="1.9"/>
<line x1="424.40" y1="18.25" x2="428.30" y2="18.25" stroke="#000" stroke-width="1.9"/>
<line x1="425.70" y1="1.86" x2="428.30" y2="1.86" stroke="#000" stroke-width="1.9"/>
<text transform="translate(428.70,214.90) scale(1,1.200)" font-family='"Liberation Serif", serif' font-size="11.2" font-weight="bold" text-anchor="middle">0</text>
<text transform="translate(477.64,214.90) scale(1,1.200)" font-family='"Liberation Serif", serif' font-size="11.2" font-weight="bold" text-anchor="middle">200</text>
<text transform="translate(526.58,214.90) scale(1,1.200)" font-family='"Liberation Serif", serif' font-size="11.2" font-weight="bold" text-anchor="middle">400</text>
<text transform="translate(575.52,214.90) scale(1,1.200)" font-family='"Liberation Serif", serif' font-size="11.2" font-weight="bold" text-anchor="middle">600</text>
<text transform="translate(624.46,214.90) scale(1,1.200)" font-family='"Liberation Serif", serif' font-size="11.2" font-weight="bold" text-anchor="middle">800</text>
<text transform="translate(673.40,214.90) scale(1,1.200)" font-family='"Liberation Serif", serif' font-size="11.2" font-weight="bold" text-anchor="middle">1000</text>
<text transform="translate(422.30,186.10) scale(1,1.110)" font-family='"Liberation Serif", serif' font-size="10.9" font-weight="bold" text-anchor="end">50</text>
<text transform="translate(422.30,153.33) scale(1,1.110)" font-family='"Liberation Serif", serif' font-size="10.9" font-weight="bold" text-anchor="end">60</text>
<text transform="translate(422.30,120.56) scale(1,1.110)" font-family='"Liberation Serif", serif' font-size="10.9" font-weight="bold" text-anchor="end">70</text>
<text transform="translate(422.30,87.79) scale(1,1.110)" font-family='"Liberation Serif", serif' font-size="10.9" font-weight="bold" text-anchor="end">80</text>
<text transform="translate(422.30,55.02) scale(1,1.110)" font-family='"Liberation Serif", serif' font-size="10.9" font-weight="bold" text-anchor="end">90</text>
<text transform="translate(422.30,22.25) scale(1,1.110)" font-family='"Liberation Serif", serif' font-size="10.9" font-weight="bold" text-anchor="end">100</text>
<text x="554.10" y="54.50" font-family='"Liberation Serif", serif' font-size="14.6" font-weight="bold" text-anchor="middle" >(B)</text>
<g transform="translate(394.6,146.0) rotate(-90)">
<text transform="scale(0.88,1)" x="0.5" y="0" font-family='"Liberation Serif", serif' font-size="20.4" font-weight="bold" textLength="70.2" lengthAdjust="spacing">Weight</text>
<text x="68.90" y="0.00" font-family='"Liberation Serif", serif' font-size="12" font-weight="bold" text-anchor="start" >(</text>
<text x="78.00" y="0.00" font-family='"Liberation Serif", serif' font-size="21" font-weight="bold" text-anchor="start" textLength="16.5" lengthAdjust="spacingAndGlyphs" stroke="#000" stroke-width="0.7">%</text>
<text x="98.30" y="0.00" font-family='"Liberation Serif", serif' font-size="12" font-weight="bold" text-anchor="start" >)</text>
</g>
<text transform="translate(479.30,236.60) scale(1,1.060)" font-family='"Liberation Serif", serif' font-size="19.4" font-weight="bold" text-anchor="start">Temperature</text>
<text x="591.40" y="237.00" font-family='"Liberation Serif", serif' font-size="10.5" font-weight="bold" text-anchor="start" >(</text>
<text x="595.70" y="231.30" font-family='"Liberation Serif", serif' font-size="13.5" font-weight="bold" text-anchor="start" textLength="8.1" lengthAdjust="spacingAndGlyphs">0</text>
<text transform="translate(604.30,236.60) scale(1,1.040)" font-family='"Liberation Serif", serif' font-size="19.5" font-weight="bold" text-anchor="start">C</text>
<text x="618.80" y="237.00" font-family='"Liberation Serif", serif' font-size="10.5" font-weight="bold" text-anchor="start" >)</text>
<line x1="359.70" y1="271.20" x2="359.70" y2="483.80" stroke="#000" stroke-width="2.3"/>
<line x1="228.00" y1="377.60" x2="491.00" y2="377.60" stroke="#000" stroke-width="2.1"/>
<line x1="228.55" y1="377.60" x2="228.55" y2="380.00" stroke="#000" stroke-width="1.8"/>
<line x1="243.10" y1="377.60" x2="243.10" y2="381.80" stroke="#000" stroke-width="1.8"/>
<line x1="257.65" y1="377.60" x2="257.65" y2="380.00" stroke="#000" stroke-width="1.8"/>
<line x1="272.20" y1="377.60" x2="272.20" y2="381.80" stroke="#000" stroke-width="1.8"/>
<line x1="286.75" y1="377.60" x2="286.75" y2="380.00" stroke="#000" stroke-width="1.8"/>
<line x1="301.30" y1="377.60" x2="301.30" y2="381.80" stroke="#000" stroke-width="1.8"/>
<line x1="315.85" y1="377.60" x2="315.85" y2="380.00" stroke="#000" stroke-width="1.8"/>
<line x1="330.40" y1="377.60" x2="330.40" y2="381.80" stroke="#000" stroke-width="1.8"/>
<line x1="344.95" y1="377.60" x2="344.95" y2="380.00" stroke="#000" stroke-width="1.8"/>
<line x1="359.50" y1="377.60" x2="359.50" y2="381.80" stroke="#000" stroke-width="1.8"/>
<line x1="374.05" y1="377.60" x2="374.05" y2="380.00" stroke="#000" stroke-width="1.8"/>
<line x1="388.60" y1="377.60" x2="388.60" y2="381.80" stroke="#000" stroke-width="1.8"/>
<line x1="403.15" y1="377.60" x2="403.15" y2="380.00" stroke="#000" stroke-width="1.8"/>
<line x1="417.70" y1="377.60" x2="417.70" y2="381.80" stroke="#000" stroke-width="1.8"/>
<line x1="432.25" y1="377.60" x2="432.25" y2="380.00" stroke="#000" stroke-width="1.8"/>
<line x1="446.80" y1="377.60" x2="446.80" y2="381.80" stroke="#000" stroke-width="1.8"/>
<line x1="461.35" y1="377.60" x2="461.35" y2="380.00" stroke="#000" stroke-width="1.8"/>
<line x1="475.90" y1="377.60" x2="475.90" y2="381.80" stroke="#000" stroke-width="1.8"/>
<line x1="490.45" y1="377.60" x2="490.45" y2="380.00" stroke="#000" stroke-width="1.8"/>
<line x1="357.50" y1="482.81" x2="359.70" y2="482.81" stroke="#000" stroke-width="1.9"/>
<line x1="355.80" y1="471.06" x2="359.70" y2="471.06" stroke="#000" stroke-width="1.9"/>
<line x1="357.50" y1="459.31" x2="359.70" y2="459.31" stroke="#000" stroke-width="1.9"/>
<line x1="355.80" y1="447.57" x2="359.70" y2="447.57" stroke="#000" stroke-width="1.9"/>
<line x1="357.50" y1="435.83" x2="359.70" y2="435.83" stroke="#000" stroke-width="1.9"/>
<line x1="355.80" y1="424.08" x2="359.70" y2="424.08" stroke="#000" stroke-width="1.9"/>
<line x1="357.50" y1="412.34" x2="359.70" y2="412.34" stroke="#000" stroke-width="1.9"/>
<line x1="355.80" y1="400.59" x2="359.70" y2="400.59" stroke="#000" stroke-width="1.9"/>
<line x1="357.50" y1="388.85" x2="359.70" y2="388.85" stroke="#000" stroke-width="1.9"/>
<line x1="355.80" y1="377.10" x2="359.70" y2="377.10" stroke="#000" stroke-width="1.9"/>
<line x1="357.50" y1="365.36" x2="359.70" y2="365.36" stroke="#000" stroke-width="1.9"/>
<line x1="355.80" y1="353.61" x2="359.70" y2="353.61" stroke="#000" stroke-width="1.9"/>
<line x1="357.50" y1="341.87" x2="359.70" y2="341.87" stroke="#000" stroke-width="1.9"/>
<line x1="355.80" y1="330.12" x2="359.70" y2="330.12" stroke="#000" stroke-width="1.9"/>
<line x1="357.50" y1="318.38" x2="359.70" y2="318.38" stroke="#000" stroke-width="1.9"/>
<line x1="355.80" y1="306.63" x2="359.70" y2="306.63" stroke="#000" stroke-width="1.9"/>
<line x1="357.50" y1="294.89" x2="359.70" y2="294.89" stroke="#000" stroke-width="1.9"/>
<line x1="355.80" y1="283.14" x2="359.70" y2="283.14" stroke="#000" stroke-width="1.9"/>
<line x1="357.50" y1="271.40" x2="359.70" y2="271.40" stroke="#000" stroke-width="1.9"/>
<text x="243.10" y="391.60" font-family='"Liberation Serif", serif' font-size="8.8" font-weight="bold" text-anchor="middle" >-20000</text>
<text x="272.20" y="391.60" font-family='"Liberation Serif", serif' font-size="8.8" font-weight="bold" text-anchor="middle" >-15000</text>
<text x="301.30" y="391.60" font-family='"Liberation Serif", serif' font-size="8.8" font-weight="bold" text-anchor="middle" >-10000</text>
<text x="330.40" y="391.60" font-family='"Liberation Serif", serif' font-size="8.8" font-weight="bold" text-anchor="middle" >-5000</text>
<text x="359.50" y="391.60" font-family='"Liberation Serif", serif' font-size="8.8" font-weight="bold" text-anchor="middle" >0</text>
<text x="388.60" y="391.60" font-family='"Liberation Serif", serif' font-size="8.8" font-weight="bold" text-anchor="middle" >5000</text>
<text x="417.70" y="391.60" font-family='"Liberation Serif", serif' font-size="8.8" font-weight="bold" text-anchor="middle" >10000</text>
<text x="446.80" y="391.60" font-family='"Liberation Serif", serif' font-size="8.8" font-weight="bold" text-anchor="middle" >15000</text>
<text x="475.90" y="391.60" font-family='"Liberation Serif", serif' font-size="8.8" font-weight="bold" text-anchor="middle" >20000</text>
<text transform="translate(352.70,474.26) scale(1,1.060)" font-family='"Liberation Serif", serif' font-size="9" font-weight="bold" text-anchor="end">-80</text>
<text transform="translate(352.70,450.77) scale(1,1.060)" font-family='"Liberation Serif", serif' font-size="9" font-weight="bold" text-anchor="end">-60</text>
<text transform="translate(352.70,427.28) scale(1,1.060)" font-family='"Liberation Serif", serif' font-size="9" font-weight="bold" text-anchor="end">-40</text>
<text transform="translate(352.70,403.79) scale(1,1.060)" font-family='"Liberation Serif", serif' font-size="9" font-weight="bold" text-anchor="end">-20</text>
<text transform="translate(352.70,380.30) scale(1,1.060)" font-family='"Liberation Serif", serif' font-size="9" font-weight="bold" text-anchor="end">0</text>
<text transform="translate(352.70,356.81) scale(1,1.060)" font-family='"Liberation Serif", serif' font-size="9" font-weight="bold" text-anchor="end">20</text>
<text transform="translate(352.70,333.32) scale(1,1.060)" font-family='"Liberation Serif", serif' font-size="9" font-weight="bold" text-anchor="end">40</text>
<text transform="translate(352.70,309.83) scale(1,1.060)" font-family='"Liberation Serif", serif' font-size="9" font-weight="bold" text-anchor="end">60</text>
<text transform="translate(352.70,286.34) scale(1,1.060)" font-family='"Liberation Serif", serif' font-size="9" font-weight="bold" text-anchor="end">80</text>
<polyline points="248.3,460.1 250.1,460.1 251.8,460.0 253.6,459.9 255.3,459.9 257.1,459.8 258.8,459.7 260.6,459.6 262.3,459.6 264.1,459.5 265.8,459.4 267.5,459.3 269.3,459.2 271.0,459.1 272.8,459.1 274.5,459.0 276.3,458.9 278.0,458.8 279.8,458.7 281.5,458.5 283.3,458.4 285.0,458.3 286.8,458.2 288.5,458.1 290.2,458.0 292.0,457.8 293.7,457.7 295.5,457.6 297.2,457.4 299.0,457.3 300.7,457.1 302.5,456.9 304.2,456.8 306.0,456.6 307.7,456.4 309.4,456.2 311.2,456.0 312.9,455.8 314.7,455.6 316.4,455.4 318.2,455.1 319.9,454.9 321.7,454.6 323.4,454.3 325.2,454.0 326.9,453.7 328.7,453.3 330.4,452.9 332.1,452.5 332.7,452.3 333.3,452.2 333.9,452.0 334.5,451.8 335.1,451.7 335.6,451.5 336.2,451.3 336.8,451.1 337.4,450.9 338.0,450.7 338.5,450.5 339.1,450.2 339.7,450.0 340.3,449.7 340.9,449.4 341.5,449.2 342.0,448.9 342.6,448.5 343.2,448.2 343.8,447.8 344.4,447.5 344.9,447.0 345.5,446.6 346.1,446.1 346.7,445.6 347.3,445.1 347.9,444.5 348.4,443.9 349.0,443.3 349.6,442.5 350.2,441.8 350.8,440.9 351.4,440.0 351.5,439.8 351.6,439.6 351.7,439.4 351.8,439.2 351.9,439.0 352.1,438.8 352.2,438.6 352.3,438.4 352.4,438.2 352.5,437.9 352.6,437.7 352.7,437.5 352.9,437.2 353.0,437.0 353.1,436.8 353.2,436.5 353.3,436.3 353.4,436.0 353.6,435.8 353.7,435.5 353.8,435.2 353.9,435.0 354.0,434.7 354.1,434.4 354.3,434.1 354.4,433.8 354.5,433.5 354.6,433.2 354.7,432.9 354.8,432.6 355.0,432.3 355.1,431.9 355.2,431.6 355.3,431.2 355.4,430.9 355.5,430.5 355.7,430.1 355.8,429.8 355.9,429.4 356.0,429.0 356.1,428.6 356.2,428.1 356.4,427.7 356.5,427.2 356.6,426.8 356.7,426.3 356.8,425.8 356.9,425.2 357.1,424.7 357.2,424.1 357.3,423.5 357.4,422.8 357.5,422.1 357.6,421.3 357.8,420.5 357.9,419.6 358.0,418.6 358.1,417.5 358.2,416.2 358.3,414.8 358.5,413.2 358.6,411.2 358.7,408.9 358.8,406.1 358.9,402.8 359.0,398.9 359.2,394.3 359.3,389.0 359.4,383.2 359.5,377.1 359.6,371.0 359.7,365.2 359.8,359.9 360.0,355.3 360.1,351.4 360.2,348.1 360.3,345.3 360.4,343.0 360.5,341.0 360.7,339.4 360.8,338.0 360.9,336.7 361.0,335.6 361.1,334.6 361.2,333.7 361.4,332.9 361.5,332.1 361.6,331.4 361.7,330.7 361.8,330.1 361.9,329.5 362.1,329.0 362.2,328.4 362.3,327.9 362.4,327.4 362.5,327.0 362.6,326.5 362.8,326.1 362.9,325.6 363.0,325.2 363.1,324.8 363.2,324.4 363.3,324.1 363.5,323.7 363.6,323.3 363.7,323.0 363.8,322.6 363.9,322.3 364.0,321.9 364.2,321.6 364.3,321.3 364.4,321.0 364.5,320.7 364.6,320.4 364.7,320.1 364.9,319.8 365.0,319.5 365.1,319.2 365.2,319.0 365.3,318.7 365.4,318.4 365.6,318.2 365.7,317.9 365.8,317.7 365.9,317.4 366.0,317.2 366.1,317.0 366.3,316.7 366.4,316.5 366.5,316.3 366.6,316.0 366.7,315.8 366.8,315.6 366.9,315.4 367.1,315.2 367.2,315.0 367.3,314.8 367.4,314.6 367.5,314.4 367.6,314.2 367.8,314.0 367.9,313.8 368.0,313.6 368.1,313.5 368.2,313.3 368.8,312.4 369.4,311.7 370.0,310.9 370.6,310.3 371.1,309.7 371.7,309.1 372.3,308.6 372.9,308.1 373.5,307.6 374.1,307.2 374.6,306.7 375.2,306.4 375.8,306.0 376.4,305.7 377.0,305.3 377.5,305.0 378.1,304.8 378.7,304.5 379.3,304.2 379.9,304.0 380.5,303.7 381.0,303.5 381.6,303.3 382.2,303.1 382.8,302.9 383.4,302.7 383.9,302.5 384.5,302.4 385.1,302.2 385.7,302.0 386.3,301.9 386.9,301.7 387.4,301.6 388.0,301.4 388.6,301.3 390.3,300.9 392.1,300.5 393.8,300.2 395.6,299.9 397.3,299.6 399.1,299.3 400.8,299.1 402.6,298.8 404.3,298.6 406.1,298.4 407.8,298.2 409.6,298.0 411.3,297.8 413.0,297.6 414.8,297.4 416.5,297.3 418.3,297.1 420.0,296.9 421.8,296.8 423.5,296.6 425.3,296.5 427.0,296.4 428.8,296.2 430.5,296.1 432.2,296.0 434.0,295.9 435.7,295.8 437.5,295.7 439.2,295.5 441.0,295.4 442.7,295.3 444.5,295.2 446.2,295.1 448.0,295.1 449.7,295.0 451.5,294.9 453.2,294.8 454.9,294.7 456.7,294.6 458.4,294.6 460.2,294.5 461.9,294.4 463.7,294.3 465.4,294.3 467.2,294.2 468.9,294.1 470.7,294.1" fill="none" stroke="#0000ff" stroke-width="2.5" stroke-linejoin="round" stroke-linecap="round" />
<polyline points="247.7,417.7 249.5,417.6 251.2,417.6 253.0,417.6 254.7,417.6 256.5,417.6 258.2,417.5 260.0,417.5 261.7,417.5 263.5,417.5 265.2,417.4 266.9,417.4 268.7,417.4 270.4,417.4 272.2,417.3 273.9,417.3 275.7,417.3 277.4,417.2 279.2,417.2 280.9,417.2 282.7,417.1 284.4,417.1 286.1,417.1 287.9,417.0 289.6,417.0 291.4,416.9 293.1,416.9 294.9,416.8 296.6,416.8 298.4,416.7 300.1,416.6 301.9,416.6 303.6,416.5 305.4,416.4 307.1,416.4 308.8,416.3 310.6,416.2 312.3,416.1 314.1,416.0 315.8,415.9 317.6,415.7 319.3,415.6 321.1,415.5 322.8,415.3 324.6,415.2 326.3,415.0 328.1,414.8 329.8,414.6 331.5,414.3 332.1,414.2 332.7,414.2 333.3,414.1 333.9,414.0 334.5,413.9 335.0,413.8 335.6,413.7 336.2,413.6 336.8,413.5 337.4,413.4 337.9,413.2 338.5,413.1 339.1,413.0 339.7,412.9 340.3,412.7 340.9,412.6 341.4,412.5 342.0,412.3 342.6,412.2 343.2,412.0 343.8,411.8 344.3,411.7 344.9,411.5 345.5,411.3 346.1,411.1 346.7,410.9 347.3,410.6 347.8,410.4 348.4,410.2 349.0,409.9 349.6,409.6 350.2,409.3 350.8,409.0 350.9,408.9 351.0,408.8 351.1,408.7 351.2,408.7 351.3,408.6 351.5,408.5 351.6,408.4 351.7,408.3 351.8,408.3 351.9,408.2 352.0,408.1 352.1,408.0 352.3,407.9 352.4,407.8 352.5,407.7 352.6,407.6 352.7,407.5 352.8,407.4 353.0,407.3 353.1,407.2 353.2,407.1 353.3,406.9 353.4,406.8 353.5,406.7 353.7,406.6 353.8,406.4 353.9,406.3 354.0,406.1 354.1,406.0 354.2,405.8 354.4,405.6 354.5,405.5 354.6,405.3 354.7,405.1 354.8,404.9 354.9,404.7 355.1,404.5 355.2,404.2 355.3,404.0 355.4,403.7 355.5,403.4 355.6,403.2 355.8,402.8 355.9,402.5 356.0,402.2 356.1,401.8 356.2,401.4 356.3,400.9 356.5,400.5 356.6,399.9 356.7,399.4 356.8,398.8 356.9,398.2 357.0,397.5 357.2,396.7 357.3,395.9 357.4,395.0 357.5,394.0 357.6,393.0 357.7,391.9 357.9,390.7 358.0,389.4 358.1,388.0 358.2,386.6 358.3,385.0 358.4,383.4 358.6,381.8 358.7,380.1 358.8,378.4 358.9,376.6 359.0,374.9 359.1,373.2 359.2,371.5 359.4,369.8 359.5,368.2 359.6,366.7 359.7,365.2 359.8,363.9 359.9,362.6 360.1,361.4 360.2,360.3 360.3,359.2 360.4,358.3 360.5,357.4 360.6,356.6 360.8,355.8 360.9,355.1 361.0,354.5 361.1,353.9 361.2,353.3 361.3,352.8 361.5,352.3 361.6,351.9 361.7,351.5 361.8,351.1 361.9,350.8 362.0,350.4 362.2,350.1 362.3,349.8 362.4,349.5 362.5,349.3 362.6,349.0 362.7,348.8 362.9,348.6 363.0,348.4 363.1,348.2 363.2,348.0 363.3,347.8 363.4,347.6 363.6,347.4 363.7,347.3 363.8,347.1 363.9,347.0 364.0,346.8 364.1,346.7 364.3,346.6 364.4,346.4 364.5,346.3 364.6,346.2 364.7,346.1 364.8,346.0 365.0,345.9 365.1,345.8 365.2,345.7 365.3,345.6 365.4,345.5 365.5,345.4 365.7,345.3 365.8,345.2 365.9,345.1 366.0,345.0 366.1,344.9 366.2,344.8 366.3,344.8 366.5,344.7 366.6,344.6 366.7,344.5 366.8,344.4 366.9,344.4 367.0,344.3 367.2,344.2 367.3,344.2 367.4,344.1 367.5,344.0 367.6,344.0 368.2,343.7 368.8,343.4 369.4,343.1 370.0,342.8 370.5,342.6 371.1,342.4 371.7,342.2 372.3,342.0 372.9,341.8 373.4,341.6 374.0,341.4 374.6,341.3 375.2,341.1 375.8,340.9 376.4,340.8 376.9,340.7 377.5,340.5 378.1,340.4 378.7,340.3 379.3,340.1 379.9,340.0 380.4,339.9 381.0,339.8 381.6,339.7 382.2,339.6 382.8,339.5 383.3,339.4 383.9,339.3 384.5,339.2 385.1,339.1 385.7,339.0 386.3,338.9 386.8,338.8 387.4,338.8 388.0,338.7 389.7,338.5 391.5,338.3 393.2,338.1 395.0,337.9 396.7,337.8 398.5,337.6 400.2,337.5 402.0,337.4 403.7,337.3 405.5,337.2 407.2,337.1 409.0,337.0 410.7,336.9 412.4,336.8 414.2,336.8 415.9,336.7 417.7,336.6 419.4,336.6 421.2,336.5 422.9,336.4 424.7,336.4 426.4,336.3 428.2,336.3 429.9,336.2 431.6,336.2 433.4,336.2 435.1,336.1 436.9,336.1 438.6,336.1 440.4,336.0 442.1,336.0 443.9,336.0 445.6,335.9 447.4,335.9 449.1,335.9 450.9,335.8 452.6,335.8 454.3,335.8 456.1,335.8 457.8,335.7 459.6,335.7 461.3,335.7 463.1,335.7 464.8,335.7 466.6,335.6 468.3,335.6 470.1,335.6" fill="none" stroke="#007d00" stroke-width="2.4" stroke-linejoin="round" stroke-linecap="round" stroke-dasharray="5.5 8.5"/>
<polyline points="247.7,419.2 249.5,419.2 251.2,419.1 253.0,419.1 254.7,419.1 256.5,419.1 258.2,419.1 260.0,419.0 261.7,419.0 263.5,419.0 265.2,419.0 266.9,418.9 268.7,418.9 270.4,418.9 272.2,418.9 273.9,418.8 275.7,418.8 277.4,418.8 279.2,418.7 280.9,418.7 282.7,418.7 284.4,418.6 286.1,418.6 287.9,418.5 289.6,418.5 291.4,418.4 293.1,418.4 294.9,418.3 296.6,418.3 298.4,418.2 300.1,418.2 301.9,418.1 303.6,418.0 305.4,418.0 307.1,417.9 308.8,417.8 310.6,417.7 312.3,417.6 314.1,417.5 315.8,417.4 317.6,417.3 319.3,417.1 321.1,417.0 322.8,416.9 324.6,416.7 326.3,416.5 328.1,416.3 329.8,416.1 331.5,415.9 332.1,415.8 332.7,415.7 333.3,415.6 333.9,415.5 334.5,415.4 335.0,415.3 335.6,415.2 336.2,415.1 336.8,415.0 337.4,414.9 337.9,414.8 338.5,414.7 339.1,414.5 339.7,414.4 340.3,414.3 340.9,414.1 341.4,414.0 342.0,413.8 342.6,413.7 343.2,413.5 343.8,413.4 344.3,413.2 344.9,413.0 345.5,412.8 346.1,412.6 346.7,412.4 347.3,412.2 347.8,411.9 348.4,411.7 349.0,411.4 349.6,411.1 350.2,410.8 350.8,410.5 350.9,410.4 351.0,410.3 351.1,410.3 351.2,410.2 351.3,410.1 351.5,410.0 351.6,410.0 351.7,409.9 351.8,409.8 351.9,409.7 352.0,409.6 352.1,409.5 352.3,409.4 352.4,409.3 352.5,409.2 352.6,409.1 352.7,409.0 352.8,408.9 353.0,408.8 353.1,408.7 353.2,408.6 353.3,408.5 353.4,408.3 353.5,408.2 353.7,408.1 353.8,407.9 353.9,407.8 354.0,407.7 354.1,407.5 354.2,407.3 354.4,407.2 354.5,407.0 354.6,406.8 354.7,406.6 354.8,406.4 354.9,406.2 355.1,406.0 355.2,405.8 355.3,405.5 355.4,405.2 355.5,405.0 355.6,404.7 355.8,404.4 355.9,404.0 356.0,403.7 356.1,403.3 356.2,402.9 356.3,402.5 356.5,402.0 356.6,401.5 356.7,400.9 356.8,400.3 356.9,399.7 357.0,399.0 357.2,398.2 357.3,397.4 357.4,396.5 357.5,395.6 357.6,394.5 357.7,393.4 357.9,392.2 358.0,390.9 358.1,389.5 358.2,388.1 358.3,386.6 358.4,385.0 358.6,383.3 358.7,381.6 358.8,379.9 358.9,378.2 359.0,376.4 359.1,374.7 359.2,373.0 359.4,371.3 359.5,369.7 359.6,368.2 359.7,366.8 359.8,365.4 359.9,364.1 360.1,362.9 360.2,361.8 360.3,360.8 360.4,359.8 360.5,358.9 360.6,358.1 360.8,357.3 360.9,356.6 361.0,356.0 361.1,355.4 361.2,354.8 361.3,354.3 361.5,353.9 361.6,353.4 361.7,353.0 361.8,352.6 361.9,352.3 362.0,351.9 362.2,351.6 362.3,351.3 362.4,351.1 362.5,350.8 362.6,350.6 362.7,350.3 362.9,350.1 363.0,349.9 363.1,349.7 363.2,349.5 363.3,349.3 363.4,349.1 363.6,349.0 363.7,348.8 363.8,348.7 363.9,348.5 364.0,348.4 364.1,348.2 364.3,348.1 364.4,348.0 364.5,347.8 364.6,347.7 364.7,347.6 364.8,347.5 365.0,347.4 365.1,347.3 365.2,347.2 365.3,347.1 365.4,347.0 365.5,346.9 365.7,346.8 365.8,346.7 365.9,346.6 366.0,346.5 366.1,346.4 366.2,346.4 366.3,346.3 366.5,346.2 366.6,346.1 366.7,346.0 366.8,346.0 366.9,345.9 367.0,345.8 367.2,345.8 367.3,345.7 367.4,345.6 367.5,345.6 367.6,345.5 368.2,345.2 368.8,344.9 369.4,344.6 370.0,344.4 370.5,344.1 371.1,343.9 371.7,343.7 372.3,343.5 372.9,343.3 373.4,343.1 374.0,343.0 374.6,342.8 375.2,342.6 375.8,342.5 376.4,342.3 376.9,342.2 377.5,342.0 378.1,341.9 378.7,341.8 379.3,341.7 379.9,341.5 380.4,341.4 381.0,341.3 381.6,341.2 382.2,341.1 382.8,341.0 383.3,340.9 383.9,340.8 384.5,340.7 385.1,340.6 385.7,340.5 386.3,340.5 386.8,340.4 387.4,340.3 388.0,340.2 389.7,340.0 391.5,339.8 393.2,339.6 395.0,339.5 396.7,339.3 398.5,339.2 400.2,339.0 402.0,338.9 403.7,338.8 405.5,338.7 407.2,338.6 409.0,338.5 410.7,338.4 412.4,338.4 414.2,338.3 415.9,338.2 417.7,338.1 419.4,338.1 421.2,338.0 422.9,338.0 424.7,337.9 426.4,337.9 428.2,337.8 429.9,337.8 431.6,337.7 433.4,337.7 435.1,337.7 436.9,337.6 438.6,337.6 440.4,337.5 442.1,337.5 443.9,337.5 445.6,337.5 447.4,337.4 449.1,337.4 450.9,337.4 452.6,337.3 454.3,337.3 456.1,337.3 457.8,337.3 459.6,337.2 461.3,337.2 463.1,337.2 464.8,337.2 466.6,337.2 468.3,337.1 470.1,337.1" fill="none" stroke="#ff0000" stroke-width="2.4" stroke-linejoin="round" stroke-linecap="round" />
<text x="293.10" y="308.90" font-family='"Liberation Serif", serif' font-size="16.3" font-weight="bold" text-anchor="middle" >(C)</text>
<text transform="translate(208.30,377.40) rotate(-90)" font-family='"Liberation Serif", serif' font-size="21.5" font-weight="bold" text-anchor="middle">Magnetization (emu/g)</text>
<text transform="translate(362.20,510.10) scale(1,0.960)" font-family='"Liberation Serif", serif' font-size="21.3" font-weight="bold" text-anchor="middle">Field/G</text>
<line x1="486" y1="275.5" x2="515" y2="275.5" stroke="#0000ff" stroke-width="2.5" />
<text x="518.40" y="279.80" font-family='"Liberation Serif", serif' font-size="12.6" font-weight="normal" text-anchor="start" >(a)</text>
<line x1="486" y1="291.5" x2="515" y2="291.5" stroke="#007d00" stroke-width="2.5" stroke-dasharray="5 8.7"/>
<text x="518.40" y="295.80" font-family='"Liberation Serif", serif' font-size="12.6" font-weight="normal" text-anchor="start" >(b)</text>
<line x1="486" y1="307.5" x2="515" y2="307.5" stroke="#ff0000" stroke-width="2.5" />
<text x="518.40" y="311.80" font-family='"Liberation Serif", serif' font-size="12.6" font-weight="normal" text-anchor="start" >(c)</text>
</g>
</svg>
</body></html>
